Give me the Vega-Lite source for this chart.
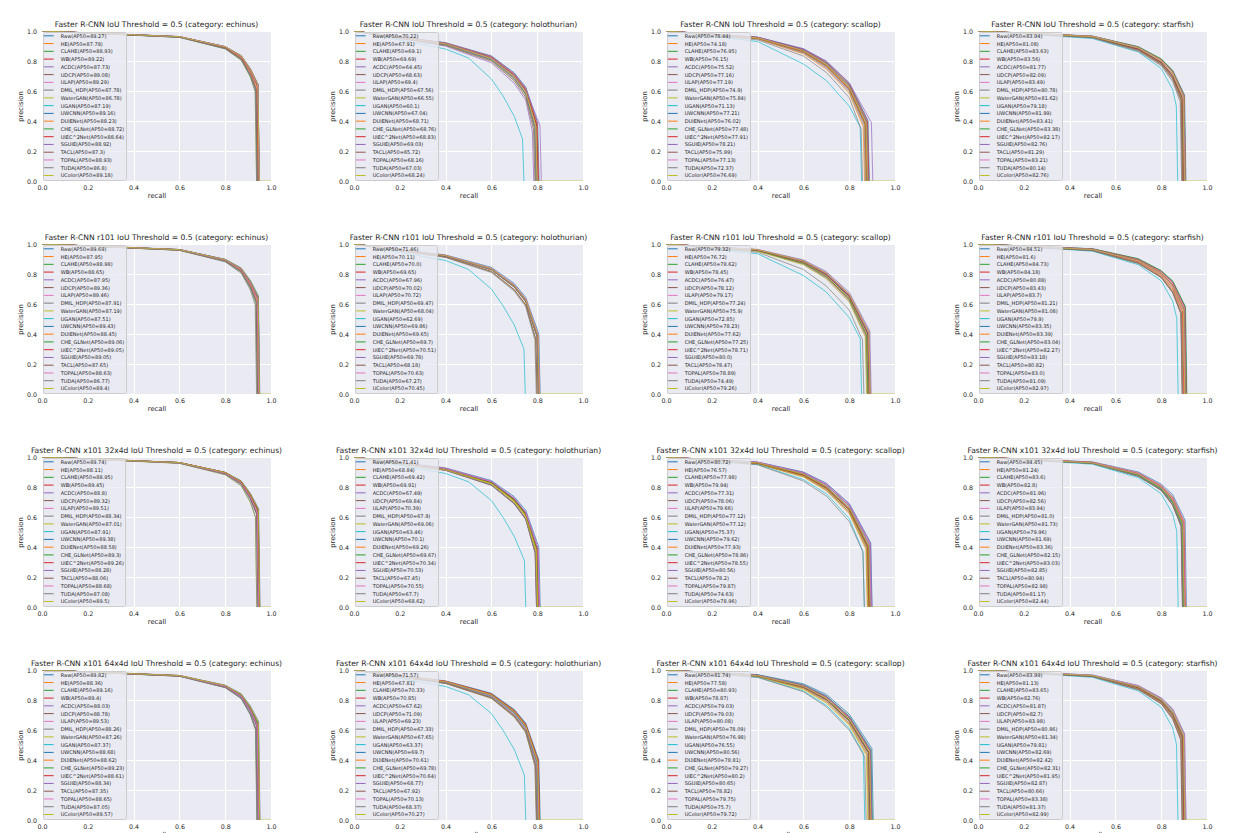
{
"$schema":"https://vega.github.io/schema/vega-lite/v6.json",
"padding":{"left":17,"top":21,"right":5,"bottom":0},
"background":"white",
"datasets":{
"labels":[
{"c":0,"t":"Raw(AP50=89.27)"},{"c":1,"t":"HE(AP50=87.78)"},{"c":2,"t":"CLAHE(AP50=88.93)"},{"c":3,"t":"WB(AP50=89.22)"},{"c":4,"t":"ACDC(AP50=87.73)"},{"c":5,"t":"UDCP(AP50=89.08)"},{"c":6,"t":"ULAP(AP50=89.29)"},{"c":7,"t":"DMIL_HDP(AP50=87.78)"},{"c":8,"t":"WaterGAN(AP50=86.78)"},{"c":9,"t":"UGAN(AP50=87.19)"},{"c":10,"t":"UWCNN(AP50=89.16)"},{"c":11,"t":"DUIENet(AP50=88.23)"},{"c":12,"t":"CHE_GLNet(AP50=88.72)"},{"c":13,"t":"UIEC^2Net(AP50=88.64)"},{"c":14,"t":"SGUIE(AP50=88.92)"},{"c":15,"t":"TACL(AP50=87.3)"},{"c":16,"t":"TOPAL(AP50=88.93)"},{"c":17,"t":"TUDA(AP50=86.8)"},{"c":18,"t":"UColor(AP50=89.18)"},
{"c":19,"t":"Raw(AP50=70.22)"},{"c":20,"t":"HE(AP50=67.91)"},{"c":21,"t":"CLAHE(AP50=69.1)"},{"c":22,"t":"WB(AP50=69.69)"},{"c":23,"t":"ACDC(AP50=64.45)"},{"c":24,"t":"UDCP(AP50=68.63)"},{"c":25,"t":"ULAP(AP50=69.4)"},{"c":26,"t":"DMIL_HDP(AP50=67.56)"},{"c":27,"t":"WaterGAN(AP50=66.55)"},{"c":28,"t":"UGAN(AP50=60.1)"},{"c":29,"t":"UWCNN(AP50=67.04)"},{"c":30,"t":"DUIENet(AP50=68.71)"},{"c":31,"t":"CHE_GLNet(AP50=68.76)"},{"c":32,"t":"UIEC^2Net(AP50=68.83)"},{"c":33,"t":"SGUIE(AP50=69.03)"},{"c":34,"t":"TACL(AP50=65.72)"},{"c":35,"t":"TOPAL(AP50=68.16)"},{"c":36,"t":"TUDA(AP50=67.03)"},{"c":37,"t":"UColor(AP50=68.24)"},
{"c":38,"t":"Raw(AP50=78.44)"},{"c":39,"t":"HE(AP50=74.18)"},{"c":40,"t":"CLAHE(AP50=76.95)"},{"c":41,"t":"WB(AP50=76.15)"},{"c":42,"t":"ACDC(AP50=75.52)"},{"c":43,"t":"UDCP(AP50=77.16)"},{"c":44,"t":"ULAP(AP50=77.19)"},{"c":45,"t":"DMIL_HDP(AP50=74.9)"},{"c":46,"t":"WaterGAN(AP50=75.84)"},{"c":47,"t":"UGAN(AP50=71.13)"},{"c":48,"t":"UWCNN(AP50=77.21)"},{"c":49,"t":"DUIENet(AP50=76.02)"},{"c":50,"t":"CHE_GLNet(AP50=77.48)"},{"c":51,"t":"UIEC^2Net(AP50=77.91)"},{"c":52,"t":"SGUIE(AP50=78.21)"},{"c":53,"t":"TACL(AP50=75.99)"},{"c":54,"t":"TOPAL(AP50=77.13)"},{"c":55,"t":"TUDA(AP50=72.37)"},{"c":56,"t":"UColor(AP50=76.69)"},
{"c":57,"t":"Raw(AP50=83.94)"},{"c":58,"t":"HE(AP50=81.08)"},{"c":59,"t":"CLAHE(AP50=83.63)"},{"c":60,"t":"WB(AP50=83.56)"},{"c":61,"t":"ACDC(AP50=81.77)"},{"c":62,"t":"UDCP(AP50=82.09)"},{"c":63,"t":"ULAP(AP50=83.49)"},{"c":64,"t":"DMIL_HDP(AP50=80.78)"},{"c":65,"t":"WaterGAN(AP50=81.62)"},{"c":66,"t":"UGAN(AP50=79.18)"},{"c":67,"t":"UWCNN(AP50=81.99)"},{"c":68,"t":"DUIENet(AP50=83.41)"},{"c":69,"t":"CHE_GLNet(AP50=83.38)"},{"c":70,"t":"UIEC^2Net(AP50=82.17)"},{"c":71,"t":"SGUIE(AP50=82.76)"},{"c":72,"t":"TACL(AP50=81.29)"},{"c":73,"t":"TOPAL(AP50=83.21)"},{"c":74,"t":"TUDA(AP50=80.14)"},{"c":75,"t":"UColor(AP50=82.76)"},
{"c":76,"t":"Raw(AP50=89.69)"},{"c":77,"t":"HE(AP50=87.95)"},{"c":78,"t":"CLAHE(AP50=88.98)"},{"c":79,"t":"WB(AP50=88.65)"},{"c":80,"t":"ACDC(AP50=87.95)"},{"c":81,"t":"UDCP(AP50=89.36)"},{"c":82,"t":"ULAP(AP50=89.46)"},{"c":83,"t":"DMIL_HDP(AP50=87.91)"},{"c":84,"t":"WaterGAN(AP50=87.19)"},{"c":85,"t":"UGAN(AP50=87.51)"},{"c":86,"t":"UWCNN(AP50=89.43)"},{"c":87,"t":"DUIENet(AP50=88.45)"},{"c":88,"t":"CHE_GLNet(AP50=89.06)"},{"c":89,"t":"UIEC^2Net(AP50=89.05)"},{"c":90,"t":"SGUIE(AP50=89.05)"},{"c":91,"t":"TACL(AP50=87.65)"},{"c":92,"t":"TOPAL(AP50=88.63)"},{"c":93,"t":"TUDA(AP50=86.77)"},{"c":94,"t":"UColor(AP50=89.4)"},
{"c":95,"t":"Raw(AP50=71.46)"},{"c":96,"t":"HE(AP50=70.11)"},{"c":97,"t":"CLAHE(AP50=70.0)"},{"c":98,"t":"WB(AP50=69.65)"},{"c":99,"t":"ACDC(AP50=67.96)"},{"c":100,"t":"UDCP(AP50=70.02)"},{"c":101,"t":"ULAP(AP50=70.72)"},{"c":102,"t":"DMIL_HDP(AP50=69.47)"},{"c":103,"t":"WaterGAN(AP50=68.04)"},{"c":104,"t":"UGAN(AP50=62.69)"},{"c":105,"t":"UWCNN(AP50=69.86)"},{"c":106,"t":"DUIENet(AP50=69.65)"},{"c":107,"t":"CHE_GLNet(AP50=69.7)"},{"c":108,"t":"UIEC^2Net(AP50=70.51)"},{"c":109,"t":"SGUIE(AP50=69.78)"},{"c":110,"t":"TACL(AP50=68.18)"},{"c":111,"t":"TOPAL(AP50=70.63)"},{"c":112,"t":"TUDA(AP50=67.27)"},{"c":113,"t":"UColor(AP50=70.45)"},
{"c":114,"t":"Raw(AP50=79.32)"},{"c":115,"t":"HE(AP50=76.72)"},{"c":116,"t":"CLAHE(AP50=78.62)"},{"c":117,"t":"WB(AP50=78.45)"},{"c":118,"t":"ACDC(AP50=76.47)"},{"c":119,"t":"UDCP(AP50=78.12)"},{"c":120,"t":"ULAP(AP50=79.17)"},{"c":121,"t":"DMIL_HDP(AP50=77.24)"},{"c":122,"t":"WaterGAN(AP50=75.9)"},{"c":123,"t":"UGAN(AP50=72.85)"},{"c":124,"t":"UWCNN(AP50=78.23)"},{"c":125,"t":"DUIENet(AP50=77.62)"},{"c":126,"t":"CHE_GLNet(AP50=77.25)"},{"c":127,"t":"UIEC^2Net(AP50=78.71)"},{"c":128,"t":"SGUIE(AP50=80.0)"},{"c":129,"t":"TACL(AP50=78.47)"},{"c":130,"t":"TOPAL(AP50=78.89)"},{"c":131,"t":"TUDA(AP50=74.49)"},{"c":132,"t":"UColor(AP50=79.26)"},
{"c":133,"t":"Raw(AP50=84.51)"},{"c":134,"t":"HE(AP50=81.6)"},{"c":135,"t":"CLAHE(AP50=84.73)"},{"c":136,"t":"WB(AP50=84.18)"},{"c":137,"t":"ACDC(AP50=80.88)"},{"c":138,"t":"UDCP(AP50=83.43)"},{"c":139,"t":"ULAP(AP50=83.7)"},{"c":140,"t":"DMIL_HDP(AP50=81.21)"},{"c":141,"t":"WaterGAN(AP50=81.08)"},{"c":142,"t":"UGAN(AP50=79.9)"},{"c":143,"t":"UWCNN(AP50=83.35)"},{"c":144,"t":"DUIENet(AP50=83.39)"},{"c":145,"t":"CHE_GLNet(AP50=83.04)"},{"c":146,"t":"UIEC^2Net(AP50=82.27)"},{"c":147,"t":"SGUIE(AP50=83.18)"},{"c":148,"t":"TACL(AP50=80.82)"},{"c":149,"t":"TOPAL(AP50=83.0)"},{"c":150,"t":"TUDA(AP50=81.09)"},{"c":151,"t":"UColor(AP50=82.97)"},
{"c":152,"t":"Raw(AP50=89.74)"},{"c":153,"t":"HE(AP50=88.11)"},{"c":154,"t":"CLAHE(AP50=88.95)"},{"c":155,"t":"WB(AP50=89.45)"},{"c":156,"t":"ACDC(AP50=88.8)"},{"c":157,"t":"UDCP(AP50=89.32)"},{"c":158,"t":"ULAP(AP50=89.51)"},{"c":159,"t":"DMIL_HDP(AP50=88.34)"},{"c":160,"t":"WaterGAN(AP50=87.01)"},{"c":161,"t":"UGAN(AP50=87.91)"},{"c":162,"t":"UWCNN(AP50=89.38)"},{"c":163,"t":"DUIENet(AP50=88.58)"},{"c":164,"t":"CHE_GLNet(AP50=89.3)"},{"c":165,"t":"UIEC^2Net(AP50=89.26)"},{"c":166,"t":"SGUIE(AP50=88.28)"},{"c":167,"t":"TACL(AP50=88.06)"},{"c":168,"t":"TOPAL(AP50=88.68)"},{"c":169,"t":"TUDA(AP50=87.08)"},{"c":170,"t":"UColor(AP50=89.5)"},
{"c":171,"t":"Raw(AP50=71.41)"},{"c":172,"t":"HE(AP50=68.84)"},{"c":173,"t":"CLAHE(AP50=69.42)"},{"c":174,"t":"WB(AP50=69.91)"},{"c":175,"t":"ACDC(AP50=67.49)"},{"c":176,"t":"UDCP(AP50=69.84)"},{"c":177,"t":"ULAP(AP50=70.39)"},{"c":178,"t":"DMIL_HDP(AP50=67.9)"},{"c":179,"t":"WaterGAN(AP50=69.06)"},{"c":180,"t":"UGAN(AP50=63.46)"},{"c":181,"t":"UWCNN(AP50=70.1)"},{"c":182,"t":"DUIENet(AP50=69.26)"},{"c":183,"t":"CHE_GLNet(AP50=69.67)"},{"c":184,"t":"UIEC^2Net(AP50=70.34)"},{"c":185,"t":"SGUIE(AP50=70.53)"},{"c":186,"t":"TACL(AP50=67.45)"},{"c":187,"t":"TOPAL(AP50=70.55)"},{"c":188,"t":"TUDA(AP50=67.7)"},{"c":189,"t":"UColor(AP50=68.62)"},
{"c":190,"t":"Raw(AP50=80.72)"},{"c":191,"t":"HE(AP50=76.57)"},{"c":192,"t":"CLAHE(AP50=77.98)"},{"c":193,"t":"WB(AP50=79.94)"},{"c":194,"t":"ACDC(AP50=77.31)"},{"c":195,"t":"UDCP(AP50=78.06)"},{"c":196,"t":"ULAP(AP50=79.66)"},{"c":197,"t":"DMIL_HDP(AP50=77.12)"},{"c":198,"t":"WaterGAN(AP50=77.12)"},{"c":199,"t":"UGAN(AP50=75.37)"},{"c":200,"t":"UWCNN(AP50=79.62)"},{"c":201,"t":"DUIENet(AP50=77.93)"},{"c":202,"t":"CHE_GLNet(AP50=78.86)"},{"c":203,"t":"UIEC^2Net(AP50=78.55)"},{"c":204,"t":"SGUIE(AP50=80.56)"},{"c":205,"t":"TACL(AP50=78.2)"},{"c":206,"t":"TOPAL(AP50=79.87)"},{"c":207,"t":"TUDA(AP50=74.63)"},{"c":208,"t":"UColor(AP50=78.96)"},
{"c":209,"t":"Raw(AP50=84.45)"},{"c":210,"t":"HE(AP50=81.24)"},{"c":211,"t":"CLAHE(AP50=83.6)"},{"c":212,"t":"WB(AP50=82.8)"},{"c":213,"t":"ACDC(AP50=81.96)"},{"c":214,"t":"UDCP(AP50=82.56)"},{"c":215,"t":"ULAP(AP50=83.94)"},{"c":216,"t":"DMIL_HDP(AP50=81.0)"},{"c":217,"t":"WaterGAN(AP50=81.73)"},{"c":218,"t":"UGAN(AP50=79.96)"},{"c":219,"t":"UWCNN(AP50=81.69)"},{"c":220,"t":"DUIENet(AP50=83.36)"},{"c":221,"t":"CHE_GLNet(AP50=82.15)"},{"c":222,"t":"UIEC^2Net(AP50=83.03)"},{"c":223,"t":"SGUIE(AP50=82.85)"},{"c":224,"t":"TACL(AP50=80.94)"},{"c":225,"t":"TOPAL(AP50=82.98)"},{"c":226,"t":"TUDA(AP50=81.17)"},{"c":227,"t":"UColor(AP50=82.44)"},
{"c":228,"t":"Raw(AP50=89.82)"},{"c":229,"t":"HE(AP50=88.36)"},{"c":230,"t":"CLAHE(AP50=89.16)"},{"c":231,"t":"WB(AP50=89.4)"},{"c":232,"t":"ACDC(AP50=88.03)"},{"c":233,"t":"UDCP(AP50=88.78)"},{"c":234,"t":"ULAP(AP50=89.53)"},{"c":235,"t":"DMIL_HDP(AP50=88.26)"},{"c":236,"t":"WaterGAN(AP50=87.26)"},{"c":237,"t":"UGAN(AP50=87.37)"},{"c":238,"t":"UWCNN(AP50=88.68)"},{"c":239,"t":"DUIENet(AP50=88.62)"},{"c":240,"t":"CHE_GLNet(AP50=89.23)"},{"c":241,"t":"UIEC^2Net(AP50=88.61)"},{"c":242,"t":"SGUIE(AP50=88.34)"},{"c":243,"t":"TACL(AP50=87.35)"},{"c":244,"t":"TOPAL(AP50=88.65)"},{"c":245,"t":"TUDA(AP50=87.05)"},{"c":246,"t":"UColor(AP50=89.57)"},
{"c":247,"t":"Raw(AP50=71.57)"},{"c":248,"t":"HE(AP50=67.81)"},{"c":249,"t":"CLAHE(AP50=70.33)"},{"c":250,"t":"WB(AP50=70.85)"},{"c":251,"t":"ACDC(AP50=67.62)"},{"c":252,"t":"UDCP(AP50=71.09)"},{"c":253,"t":"ULAP(AP50=69.23)"},{"c":254,"t":"DMIL_HDP(AP50=67.33)"},{"c":255,"t":"WaterGAN(AP50=67.65)"},{"c":256,"t":"UGAN(AP50=63.37)"},{"c":257,"t":"UWCNN(AP50=69.7)"},{"c":258,"t":"DUIENet(AP50=70.61)"},{"c":259,"t":"CHE_GLNet(AP50=69.78)"},{"c":260,"t":"UIEC^2Net(AP50=70.64)"},{"c":261,"t":"SGUIE(AP50=68.77)"},{"c":262,"t":"TACL(AP50=67.92)"},{"c":263,"t":"TOPAL(AP50=70.13)"},{"c":264,"t":"TUDA(AP50=68.37)"},{"c":265,"t":"UColor(AP50=70.27)"},
{"c":266,"t":"Raw(AP50=81.74)"},{"c":267,"t":"HE(AP50=77.58)"},{"c":268,"t":"CLAHE(AP50=80.93)"},{"c":269,"t":"WB(AP50=78.87)"},{"c":270,"t":"ACDC(AP50=79.03)"},{"c":271,"t":"UDCP(AP50=79.03)"},{"c":272,"t":"ULAP(AP50=80.08)"},{"c":273,"t":"DMIL_HDP(AP50=78.09)"},{"c":274,"t":"WaterGAN(AP50=76.98)"},{"c":275,"t":"UGAN(AP50=76.55)"},{"c":276,"t":"UWCNN(AP50=80.56)"},{"c":277,"t":"DUIENet(AP50=78.81)"},{"c":278,"t":"CHE_GLNet(AP50=79.27)"},{"c":279,"t":"UIEC^2Net(AP50=80.2)"},{"c":280,"t":"SGUIE(AP50=80.65)"},{"c":281,"t":"TACL(AP50=78.82)"},{"c":282,"t":"TOPAL(AP50=79.75)"},{"c":283,"t":"TUDA(AP50=75.7)"},{"c":284,"t":"UColor(AP50=79.72)"},
{"c":285,"t":"Raw(AP50=83.99)"},{"c":286,"t":"HE(AP50=81.13)"},{"c":287,"t":"CLAHE(AP50=83.65)"},{"c":288,"t":"WB(AP50=82.76)"},{"c":289,"t":"ACDC(AP50=81.87)"},{"c":290,"t":"UDCP(AP50=82.7)"},{"c":291,"t":"ULAP(AP50=83.98)"},{"c":292,"t":"DMIL_HDP(AP50=80.86)"},{"c":293,"t":"WaterGAN(AP50=81.34)"},{"c":294,"t":"UGAN(AP50=79.81)"},{"c":295,"t":"UWCNN(AP50=82.69)"},{"c":296,"t":"DUIENet(AP50=82.42)"},{"c":297,"t":"CHE_GLNet(AP50=82.31)"},{"c":298,"t":"UIEC^2Net(AP50=81.95)"},{"c":299,"t":"SGUIE(AP50=82.87)"},{"c":300,"t":"TACL(AP50=80.66)"},{"c":301,"t":"TOPAL(AP50=83.38)"},{"c":302,"t":"TUDA(AP50=81.37)"},{"c":303,"t":"UColor(AP50=82.99)"}
],
"curves":[
{"c":0,"r":0,"v":1},{"c":0,"r":0.6,"v":0.963},{"c":0,"r":0.8,"v":0.896},{"c":0,"r":0.87,"v":0.835},{"c":0,"r":0.91,"v":0.748},{"c":0,"r":0.943,"v":0.645},{"c":0,"r":0.949,"v":0},
{"c":1,"r":0,"v":1},{"c":1,"r":0.6,"v":0.96},{"c":1,"r":0.8,"v":0.887},{"c":1,"r":0.87,"v":0.817},{"c":1,"r":0.91,"v":0.715},{"c":1,"r":0.936,"v":0.616},{"c":1,"r":0.942,"v":0},
{"c":2,"r":0,"v":1},{"c":2,"r":0.6,"v":0.962},{"c":2,"r":0.8,"v":0.894},{"c":2,"r":0.87,"v":0.831},{"c":2,"r":0.91,"v":0.74},{"c":2,"r":0.942,"v":0.639},{"c":2,"r":0.948,"v":0},
{"c":3,"r":0,"v":1},{"c":3,"r":0.6,"v":0.962},{"c":3,"r":0.8,"v":0.895},{"c":3,"r":0.87,"v":0.835},{"c":3,"r":0.91,"v":0.747},{"c":3,"r":0.943,"v":0.644},{"c":3,"r":0.949,"v":0},
{"c":4,"r":0,"v":1},{"c":4,"r":0.6,"v":0.959},{"c":4,"r":0.8,"v":0.886},{"c":4,"r":0.87,"v":0.817},{"c":4,"r":0.91,"v":0.714},{"c":4,"r":0.936,"v":0.615},{"c":4,"r":0.942,"v":0},
{"c":5,"r":0,"v":1},{"c":5,"r":0.6,"v":0.962},{"c":5,"r":0.8,"v":0.894},{"c":5,"r":0.87,"v":0.833},{"c":5,"r":0.91,"v":0.744},{"c":5,"r":0.942,"v":0.642},{"c":5,"r":0.948,"v":0},
{"c":6,"r":0,"v":1},{"c":6,"r":0.6,"v":0.963},{"c":6,"r":0.8,"v":0.896},{"c":6,"r":0.87,"v":0.835},{"c":6,"r":0.91,"v":0.748},{"c":6,"r":0.943,"v":0.646},{"c":6,"r":0.949,"v":0},
{"c":7,"r":0,"v":1},{"c":7,"r":0.6,"v":0.96},{"c":7,"r":0.8,"v":0.887},{"c":7,"r":0.87,"v":0.817},{"c":7,"r":0.91,"v":0.715},{"c":7,"r":0.935,"v":0.616},{"c":7,"r":0.941,"v":0},
{"c":8,"r":0,"v":1},{"c":8,"r":0.6,"v":0.958},{"c":8,"r":0.8,"v":0.881},{"c":8,"r":0.87,"v":0.805},{"c":8,"r":0.91,"v":0.693},{"c":8,"r":0.931,"v":0.596},{"c":8,"r":0.937,"v":0},
{"c":9,"r":0,"v":1},{"c":9,"r":0.6,"v":0.958},{"c":9,"r":0.8,"v":0.883},{"c":9,"r":0.87,"v":0.81},{"c":9,"r":0.91,"v":0.702},{"c":9,"r":0.933,"v":0.604},{"c":9,"r":0.939,"v":0},
{"c":10,"r":0,"v":1},{"c":10,"r":0.6,"v":0.962},{"c":10,"r":0.8,"v":0.895},{"c":10,"r":0.87,"v":0.834},{"c":10,"r":0.91,"v":0.746},{"c":10,"r":0.943,"v":0.643},{"c":10,"r":0.949,"v":0},
{"c":11,"r":0,"v":1},{"c":11,"r":0.6,"v":0.96},{"c":11,"r":0.8,"v":0.889},{"c":11,"r":0.87,"v":0.823},{"c":11,"r":0.91,"v":0.725},{"c":11,"r":0.938,"v":0.625},{"c":11,"r":0.944,"v":0},
{"c":12,"r":0,"v":1},{"c":12,"r":0.6,"v":0.961},{"c":12,"r":0.8,"v":0.892},{"c":12,"r":0.87,"v":0.829},{"c":12,"r":0.91,"v":0.736},{"c":12,"r":0.941,"v":0.634},{"c":12,"r":0.947,"v":0},
{"c":13,"r":0,"v":1},{"c":13,"r":0.6,"v":0.961},{"c":13,"r":0.8,"v":0.892},{"c":13,"r":0.87,"v":0.828},{"c":13,"r":0.91,"v":0.734},{"c":13,"r":0.94,"v":0.633},{"c":13,"r":0.946,"v":0},
{"c":14,"r":0,"v":1},{"c":14,"r":0.6,"v":0.962},{"c":14,"r":0.8,"v":0.894},{"c":14,"r":0.87,"v":0.831},{"c":14,"r":0.91,"v":0.74},{"c":14,"r":0.942,"v":0.638},{"c":14,"r":0.948,"v":0},
{"c":15,"r":0,"v":1},{"c":15,"r":0.6,"v":0.959},{"c":15,"r":0.8,"v":0.884},{"c":15,"r":0.87,"v":0.812},{"c":15,"r":0.91,"v":0.705},{"c":15,"r":0.934,"v":0.606},{"c":15,"r":0.94,"v":0},
{"c":16,"r":0,"v":1},{"c":16,"r":0.6,"v":0.962},{"c":16,"r":0.8,"v":0.894},{"c":16,"r":0.87,"v":0.831},{"c":16,"r":0.91,"v":0.74},{"c":16,"r":0.942,"v":0.639},{"c":16,"r":0.948,"v":0},
{"c":17,"r":0,"v":1},{"c":17,"r":0.6,"v":0.958},{"c":17,"r":0.8,"v":0.881},{"c":17,"r":0.87,"v":0.806},{"c":17,"r":0.91,"v":0.694},{"c":17,"r":0.931,"v":0.596},{"c":17,"r":0.937,"v":0},
{"c":18,"r":0,"v":1},{"c":18,"r":0.6,"v":0.962},{"c":18,"r":0.8,"v":0.895},{"c":18,"r":0.87,"v":0.834},{"c":18,"r":0.91,"v":0.746},{"c":18,"r":0.943,"v":0.644},{"c":18,"r":0.949,"v":0},{"c":18,"r":1,"v":0},
{"c":19,"r":0,"v":1},{"c":19,"r":0.4,"v":0.922},{"c":19,"r":0.6,"v":0.834},{"c":19,"r":0.7,"v":0.721},{"c":19,"r":0.75,"v":0.626},{"c":19,"r":0.802,"v":0.387},{"c":19,"r":0.808,"v":0},
{"c":20,"r":0,"v":1},{"c":20,"r":0.4,"v":0.913},{"c":20,"r":0.6,"v":0.815},{"c":20,"r":0.7,"v":0.693},{"c":20,"r":0.75,"v":0.591},{"c":20,"r":0.793,"v":0.364},{"c":20,"r":0.799,"v":0},
{"c":21,"r":0,"v":1},{"c":21,"r":0.4,"v":0.917},{"c":21,"r":0.6,"v":0.825},{"c":21,"r":0.7,"v":0.707},{"c":21,"r":0.75,"v":0.609},{"c":21,"r":0.797,"v":0.376},{"c":21,"r":0.803,"v":0},
{"c":22,"r":0,"v":1},{"c":22,"r":0.4,"v":0.92},{"c":22,"r":0.6,"v":0.83},{"c":22,"r":0.7,"v":0.714},{"c":22,"r":0.75,"v":0.618},{"c":22,"r":0.8,"v":0.382},{"c":22,"r":0.806,"v":0},
{"c":23,"r":0,"v":1},{"c":23,"r":0.4,"v":0.899},{"c":23,"r":0.6,"v":0.788},{"c":23,"r":0.7,"v":0.651},{"c":23,"r":0.75,"v":0.539},{"c":23,"r":0.779,"v":0.33},{"c":23,"r":0.785,"v":0},
{"c":24,"r":0,"v":1},{"c":24,"r":0.4,"v":0.916},{"c":24,"r":0.6,"v":0.821},{"c":24,"r":0.7,"v":0.702},{"c":24,"r":0.75,"v":0.602},{"c":24,"r":0.796,"v":0.371},{"c":24,"r":0.802,"v":0},
{"c":25,"r":0,"v":1},{"c":25,"r":0.4,"v":0.919},{"c":25,"r":0.6,"v":0.827},{"c":25,"r":0.7,"v":0.711},{"c":25,"r":0.75,"v":0.614},{"c":25,"r":0.799,"v":0.379},{"c":25,"r":0.805,"v":0},
{"c":26,"r":0,"v":1},{"c":26,"r":0.4,"v":0.911},{"c":26,"r":0.6,"v":0.812},{"c":26,"r":0.7,"v":0.689},{"c":26,"r":0.75,"v":0.586},{"c":26,"r":0.791,"v":0.361},{"c":26,"r":0.797,"v":0},
{"c":27,"r":0,"v":1},{"c":27,"r":0.4,"v":0.907},{"c":27,"r":0.6,"v":0.804},{"c":27,"r":0.7,"v":0.677},{"c":27,"r":0.75,"v":0.571},{"c":27,"r":0.787,"v":0.351},{"c":27,"r":0.793,"v":0},
{"c":28,"r":0,"v":1},{"c":28,"r":0.4,"v":0.88},{"c":28,"r":0.5,"v":0.82},{"c":28,"r":0.6,"v":0.68},{"c":28,"r":0.65,"v":0.57},{"c":28,"r":0.7,"v":0.43},{"c":28,"r":0.736,"v":0.28},{"c":28,"r":0.742,"v":0},
{"c":29,"r":0,"v":1},{"c":29,"r":0.4,"v":0.909},{"c":29,"r":0.6,"v":0.808},{"c":29,"r":0.7,"v":0.682},{"c":29,"r":0.75,"v":0.578},{"c":29,"r":0.789,"v":0.355},{"c":29,"r":0.795,"v":0},
{"c":30,"r":0,"v":1},{"c":30,"r":0.4,"v":0.916},{"c":30,"r":0.6,"v":0.822},{"c":30,"r":0.7,"v":0.703},{"c":30,"r":0.75,"v":0.603},{"c":30,"r":0.796,"v":0.372},{"c":30,"r":0.802,"v":0},
{"c":31,"r":0,"v":1},{"c":31,"r":0.4,"v":0.916},{"c":31,"r":0.6,"v":0.822},{"c":31,"r":0.7,"v":0.703},{"c":31,"r":0.75,"v":0.604},{"c":31,"r":0.797,"v":0.373},{"c":31,"r":0.803,"v":0},
{"c":32,"r":0,"v":1},{"c":32,"r":0.4,"v":0.916},{"c":32,"r":0.6,"v":0.823},{"c":32,"r":0.7,"v":0.704},{"c":32,"r":0.75,"v":0.605},{"c":32,"r":0.798,"v":0.373},{"c":32,"r":0.804,"v":0},
{"c":33,"r":0,"v":1},{"c":33,"r":0.4,"v":0.917},{"c":33,"r":0.6,"v":0.824},{"c":33,"r":0.7,"v":0.706},{"c":33,"r":0.75,"v":0.612},{"c":33,"r":0.812,"v":0.37},{"c":33,"r":0.818,"v":0},
{"c":34,"r":0,"v":1},{"c":34,"r":0.4,"v":0.904},{"c":34,"r":0.6,"v":0.798},{"c":34,"r":0.7,"v":0.667},{"c":34,"r":0.75,"v":0.558},{"c":34,"r":0.784,"v":0.342},{"c":34,"r":0.79,"v":0},
{"c":35,"r":0,"v":1},{"c":35,"r":0.4,"v":0.914},{"c":35,"r":0.6,"v":0.817},{"c":35,"r":0.7,"v":0.696},{"c":35,"r":0.75,"v":0.595},{"c":35,"r":0.794,"v":0.367},{"c":35,"r":0.8,"v":0},
{"c":36,"r":0,"v":1},{"c":36,"r":0.4,"v":0.909},{"c":36,"r":0.6,"v":0.808},{"c":36,"r":0.7,"v":0.682},{"c":36,"r":0.75,"v":0.578},{"c":36,"r":0.789,"v":0.355},{"c":36,"r":0.795,"v":0},
{"c":37,"r":0,"v":1},{"c":37,"r":0.4,"v":0.914},{"c":37,"r":0.6,"v":0.818},{"c":37,"r":0.7,"v":0.697},{"c":37,"r":0.75,"v":0.596},{"c":37,"r":0.794,"v":0.367},{"c":37,"r":0.8,"v":0},{"c":37,"r":1,"v":0},
{"c":38,"r":0,"v":1},{"c":38,"r":0.4,"v":0.959},{"c":38,"r":0.6,"v":0.882},{"c":38,"r":0.7,"v":0.797},{"c":38,"r":0.8,"v":0.653},{"c":38,"r":0.882,"v":0.404},{"c":38,"r":0.888,"v":0},
{"c":39,"r":0,"v":1},{"c":39,"r":0.4,"v":0.947},{"c":39,"r":0.6,"v":0.847},{"c":39,"r":0.7,"v":0.746},{"c":39,"r":0.8,"v":0.585},{"c":39,"r":0.861,"v":0.362},{"c":39,"r":0.867,"v":0},
{"c":40,"r":0,"v":1},{"c":40,"r":0.4,"v":0.955},{"c":40,"r":0.6,"v":0.87},{"c":40,"r":0.7,"v":0.779},{"c":40,"r":0.8,"v":0.629},{"c":40,"r":0.875,"v":0.39},{"c":40,"r":0.881,"v":0},
{"c":41,"r":0,"v":1},{"c":41,"r":0.4,"v":0.952},{"c":41,"r":0.6,"v":0.863},{"c":41,"r":0.7,"v":0.77},{"c":41,"r":0.8,"v":0.616},{"c":41,"r":0.871,"v":0.382},{"c":41,"r":0.877,"v":0},
{"c":42,"r":0,"v":1},{"c":42,"r":0.4,"v":0.951},{"c":42,"r":0.6,"v":0.858},{"c":42,"r":0.7,"v":0.762},{"c":42,"r":0.8,"v":0.606},{"c":42,"r":0.868,"v":0.375},{"c":42,"r":0.874,"v":0},
{"c":43,"r":0,"v":1},{"c":43,"r":0.4,"v":0.955},{"c":43,"r":0.6,"v":0.871},{"c":43,"r":0.7,"v":0.782},{"c":43,"r":0.8,"v":0.633},{"c":43,"r":0.876,"v":0.392},{"c":43,"r":0.882,"v":0},
{"c":44,"r":0,"v":1},{"c":44,"r":0.4,"v":0.956},{"c":44,"r":0.6,"v":0.872},{"c":44,"r":0.7,"v":0.782},{"c":44,"r":0.8,"v":0.633},{"c":44,"r":0.876,"v":0.392},{"c":44,"r":0.882,"v":0},
{"c":45,"r":0,"v":1},{"c":45,"r":0.4,"v":0.949},{"c":45,"r":0.6,"v":0.853},{"c":45,"r":0.7,"v":0.755},{"c":45,"r":0.8,"v":0.596},{"c":45,"r":0.865,"v":0.369},{"c":45,"r":0.871,"v":0},
{"c":46,"r":0,"v":1},{"c":46,"r":0.4,"v":0.952},{"c":46,"r":0.6,"v":0.861},{"c":46,"r":0.7,"v":0.766},{"c":46,"r":0.8,"v":0.611},{"c":46,"r":0.869,"v":0.378},{"c":46,"r":0.875,"v":0},
{"c":47,"r":0,"v":1},{"c":47,"r":0.4,"v":0.93},{"c":47,"r":0.6,"v":0.78},{"c":47,"r":0.7,"v":0.67},{"c":47,"r":0.8,"v":0.5},{"c":47,"r":0.848,"v":0.36},{"c":47,"r":0.854,"v":0},
{"c":48,"r":0,"v":1},{"c":48,"r":0.4,"v":0.956},{"c":48,"r":0.6,"v":0.872},{"c":48,"r":0.7,"v":0.783},{"c":48,"r":0.8,"v":0.633},{"c":48,"r":0.876,"v":0.392},{"c":48,"r":0.882,"v":0},
{"c":49,"r":0,"v":1},{"c":49,"r":0.4,"v":0.952},{"c":49,"r":0.6,"v":0.862},{"c":49,"r":0.7,"v":0.768},{"c":49,"r":0.8,"v":0.614},{"c":49,"r":0.87,"v":0.38},{"c":49,"r":0.876,"v":0},
{"c":50,"r":0,"v":1},{"c":50,"r":0.4,"v":0.956},{"c":50,"r":0.6,"v":0.874},{"c":50,"r":0.7,"v":0.786},{"c":50,"r":0.8,"v":0.638},{"c":50,"r":0.877,"v":0.395},{"c":50,"r":0.883,"v":0},
{"c":51,"r":0,"v":1},{"c":51,"r":0.4,"v":0.958},{"c":51,"r":0.6,"v":0.877},{"c":51,"r":0.7,"v":0.791},{"c":51,"r":0.8,"v":0.645},{"c":51,"r":0.88,"v":0.399},{"c":51,"r":0.886,"v":0},
{"c":52,"r":0,"v":1},{"c":52,"r":0.4,"v":0.959},{"c":52,"r":0.6,"v":0.88},{"c":52,"r":0.7,"v":0.8},{"c":52,"r":0.8,"v":0.655},{"c":52,"r":0.897,"v":0.39},{"c":52,"r":0.903,"v":0},
{"c":53,"r":0,"v":1},{"c":53,"r":0.4,"v":0.952},{"c":53,"r":0.6,"v":0.862},{"c":53,"r":0.7,"v":0.768},{"c":53,"r":0.8,"v":0.614},{"c":53,"r":0.87,"v":0.38},{"c":53,"r":0.876,"v":0},
{"c":54,"r":0,"v":1},{"c":54,"r":0.4,"v":0.955},{"c":54,"r":0.6,"v":0.871},{"c":54,"r":0.7,"v":0.782},{"c":54,"r":0.8,"v":0.632},{"c":54,"r":0.876,"v":0.391},{"c":54,"r":0.882,"v":0},
{"c":55,"r":0,"v":1},{"c":55,"r":0.4,"v":0.941},{"c":55,"r":0.6,"v":0.833},{"c":55,"r":0.7,"v":0.724},{"c":55,"r":0.8,"v":0.556},{"c":55,"r":0.852,"v":0.344},{"c":55,"r":0.858,"v":0},
{"c":56,"r":0,"v":1},{"c":56,"r":0.4,"v":0.954},{"c":56,"r":0.6,"v":0.868},{"c":56,"r":0.7,"v":0.776},{"c":56,"r":0.8,"v":0.625},{"c":56,"r":0.873,"v":0.387},{"c":56,"r":0.879,"v":0},{"c":56,"r":1,"v":0},
{"c":57,"r":0,"v":1},{"c":57,"r":0.5,"v":0.966},{"c":57,"r":0.7,"v":0.896},{"c":57,"r":0.8,"v":0.813},{"c":57,"r":0.85,"v":0.739},{"c":57,"r":0.902,"v":0.573},{"c":57,"r":0.908,"v":0},
{"c":58,"r":0,"v":1},{"c":58,"r":0.5,"v":0.957},{"c":58,"r":0.7,"v":0.873},{"c":58,"r":0.8,"v":0.779},{"c":58,"r":0.85,"v":0.682},{"c":58,"r":0.887,"v":0.539},{"c":58,"r":0.893,"v":0},
{"c":59,"r":0,"v":1},{"c":59,"r":0.5,"v":0.965},{"c":59,"r":0.7,"v":0.893},{"c":59,"r":0.8,"v":0.81},{"c":59,"r":0.85,"v":0.733},{"c":59,"r":0.9,"v":0.57},{"c":59,"r":0.906,"v":0},
{"c":60,"r":0,"v":1},{"c":60,"r":0.5,"v":0.965},{"c":60,"r":0.7,"v":0.892},{"c":60,"r":0.8,"v":0.809},{"c":60,"r":0.85,"v":0.731},{"c":60,"r":0.9,"v":0.569},{"c":60,"r":0.906,"v":0},
{"c":61,"r":0,"v":1},{"c":61,"r":0.5,"v":0.959},{"c":61,"r":0.7,"v":0.878},{"c":61,"r":0.8,"v":0.787},{"c":61,"r":0.85,"v":0.695},{"c":61,"r":0.891,"v":0.547},{"c":61,"r":0.897,"v":0},
{"c":62,"r":0,"v":1},{"c":62,"r":0.5,"v":0.96},{"c":62,"r":0.7,"v":0.881},{"c":62,"r":0.8,"v":0.791},{"c":62,"r":0.85,"v":0.702},{"c":62,"r":0.892,"v":0.551},{"c":62,"r":0.898,"v":0},
{"c":63,"r":0,"v":1},{"c":63,"r":0.5,"v":0.964},{"c":63,"r":0.7,"v":0.892},{"c":63,"r":0.8,"v":0.808},{"c":63,"r":0.85,"v":0.73},{"c":63,"r":0.899,"v":0.568},{"c":63,"r":0.905,"v":0},
{"c":64,"r":0,"v":1},{"c":64,"r":0.5,"v":0.956},{"c":64,"r":0.7,"v":0.87},{"c":64,"r":0.8,"v":0.775},{"c":64,"r":0.85,"v":0.676},{"c":64,"r":0.886,"v":0.535},{"c":64,"r":0.892,"v":0},
{"c":65,"r":0,"v":1},{"c":65,"r":0.5,"v":0.959},{"c":65,"r":0.7,"v":0.877},{"c":65,"r":0.8,"v":0.785},{"c":65,"r":0.85,"v":0.692},{"c":65,"r":0.89,"v":0.545},{"c":65,"r":0.896,"v":0},
{"c":66,"r":0,"v":1},{"c":66,"r":0.5,"v":0.95},{"c":66,"r":0.7,"v":0.86},{"c":66,"r":0.8,"v":0.75},{"c":66,"r":0.85,"v":0.61},{"c":66,"r":0.866,"v":0.5},{"c":66,"r":0.872,"v":0},
{"c":67,"r":0,"v":1},{"c":67,"r":0.5,"v":0.96},{"c":67,"r":0.7,"v":0.88},{"c":67,"r":0.8,"v":0.79},{"c":67,"r":0.85,"v":0.7},{"c":67,"r":0.892,"v":0.55},{"c":67,"r":0.898,"v":0},
{"c":68,"r":0,"v":1},{"c":68,"r":0.5,"v":0.964},{"c":68,"r":0.7,"v":0.891},{"c":68,"r":0.8,"v":0.807},{"c":68,"r":0.85,"v":0.728},{"c":68,"r":0.899,"v":0.567},{"c":68,"r":0.905,"v":0},
{"c":69,"r":0,"v":1},{"c":69,"r":0.5,"v":0.964},{"c":69,"r":0.7,"v":0.893},{"c":69,"r":0.8,"v":0.815},{"c":69,"r":0.85,"v":0.73},{"c":69,"r":0.899,"v":0.566},{"c":69,"r":0.905,"v":0},
{"c":70,"r":0,"v":1},{"c":70,"r":0.5,"v":0.961},{"c":70,"r":0.7,"v":0.881},{"c":70,"r":0.8,"v":0.792},{"c":70,"r":0.85,"v":0.703},{"c":70,"r":0.893,"v":0.552},{"c":70,"r":0.899,"v":0},
{"c":71,"r":0,"v":1},{"c":71,"r":0.5,"v":0.962},{"c":71,"r":0.7,"v":0.886},{"c":71,"r":0.8,"v":0.799},{"c":71,"r":0.85,"v":0.715},{"c":71,"r":0.896,"v":0.559},{"c":71,"r":0.902,"v":0},
{"c":72,"r":0,"v":1},{"c":72,"r":0.5,"v":0.958},{"c":72,"r":0.7,"v":0.874},{"c":72,"r":0.8,"v":0.781},{"c":72,"r":0.85,"v":0.686},{"c":72,"r":0.888,"v":0.541},{"c":72,"r":0.894,"v":0},
{"c":73,"r":0,"v":1},{"c":73,"r":0.5,"v":0.964},{"c":73,"r":0.7,"v":0.89},{"c":73,"r":0.8,"v":0.805},{"c":73,"r":0.85,"v":0.724},{"c":73,"r":0.898,"v":0.565},{"c":73,"r":0.904,"v":0},
{"c":74,"r":0,"v":1},{"c":74,"r":0.5,"v":0.954},{"c":74,"r":0.7,"v":0.865},{"c":74,"r":0.8,"v":0.768},{"c":74,"r":0.85,"v":0.663},{"c":74,"r":0.883,"v":0.528},{"c":74,"r":0.889,"v":0},
{"c":75,"r":0,"v":1},{"c":75,"r":0.5,"v":0.962},{"c":75,"r":0.7,"v":0.887},{"c":75,"r":0.8,"v":0.8},{"c":75,"r":0.85,"v":0.716},{"c":75,"r":0.895,"v":0.56},{"c":75,"r":0.901,"v":0},{"c":75,"r":1,"v":0},
{"c":76,"r":0,"v":1},{"c":76,"r":0.6,"v":0.963},{"c":76,"r":0.8,"v":0.898},{"c":76,"r":0.87,"v":0.84},{"c":76,"r":0.91,"v":0.757},{"c":76,"r":0.945,"v":0.654},{"c":76,"r":0.951,"v":0},
{"c":77,"r":0,"v":1},{"c":77,"r":0.6,"v":0.96},{"c":77,"r":0.8,"v":0.888},{"c":77,"r":0.87,"v":0.819},{"c":77,"r":0.91,"v":0.719},{"c":77,"r":0.937,"v":0.619},{"c":77,"r":0.943,"v":0},
{"c":78,"r":0,"v":1},{"c":78,"r":0.6,"v":0.962},{"c":78,"r":0.8,"v":0.894},{"c":78,"r":0.87,"v":0.832},{"c":78,"r":0.91,"v":0.742},{"c":78,"r":0.942,"v":0.64},{"c":78,"r":0.948,"v":0},
{"c":79,"r":0,"v":1},{"c":79,"r":0.6,"v":0.961},{"c":79,"r":0.8,"v":0.892},{"c":79,"r":0.87,"v":0.828},{"c":79,"r":0.91,"v":0.734},{"c":79,"r":0.94,"v":0.633},{"c":79,"r":0.946,"v":0},
{"c":80,"r":0,"v":1},{"c":80,"r":0.6,"v":0.96},{"c":80,"r":0.8,"v":0.888},{"c":80,"r":0.87,"v":0.819},{"c":80,"r":0.91,"v":0.719},{"c":80,"r":0.937,"v":0.619},{"c":80,"r":0.943,"v":0},
{"c":81,"r":0,"v":1},{"c":81,"r":0.6,"v":0.963},{"c":81,"r":0.8,"v":0.896},{"c":81,"r":0.87,"v":0.836},{"c":81,"r":0.91,"v":0.75},{"c":81,"r":0.944,"v":0.647},{"c":81,"r":0.95,"v":0},
{"c":82,"r":0,"v":1},{"c":82,"r":0.6,"v":0.963},{"c":82,"r":0.8,"v":0.897},{"c":82,"r":0.87,"v":0.838},{"c":82,"r":0.91,"v":0.752},{"c":82,"r":0.944,"v":0.649},{"c":82,"r":0.95,"v":0},
{"c":83,"r":0,"v":1},{"c":83,"r":0.6,"v":0.96},{"c":83,"r":0.8,"v":0.887},{"c":83,"r":0.87,"v":0.819},{"c":83,"r":0.91,"v":0.718},{"c":83,"r":0.937,"v":0.618},{"c":83,"r":0.943,"v":0},
{"c":84,"r":0,"v":1},{"c":84,"r":0.6,"v":0.958},{"c":84,"r":0.8,"v":0.883},{"c":84,"r":0.87,"v":0.81},{"c":84,"r":0.91,"v":0.702},{"c":84,"r":0.933,"v":0.604},{"c":84,"r":0.939,"v":0},
{"c":85,"r":0,"v":1},{"c":85,"r":0.6,"v":0.959},{"c":85,"r":0.8,"v":0.885},{"c":85,"r":0.87,"v":0.814},{"c":85,"r":0.91,"v":0.709},{"c":85,"r":0.935,"v":0.61},{"c":85,"r":0.941,"v":0},
{"c":86,"r":0,"v":1},{"c":86,"r":0.6,"v":0.963},{"c":86,"r":0.8,"v":0.897},{"c":86,"r":0.87,"v":0.837},{"c":86,"r":0.91,"v":0.751},{"c":86,"r":0.944,"v":0.649},{"c":86,"r":0.95,"v":0},
{"c":87,"r":0,"v":1},{"c":87,"r":0.6,"v":0.961},{"c":87,"r":0.8,"v":0.891},{"c":87,"r":0.87,"v":0.825},{"c":87,"r":0.91,"v":0.73},{"c":87,"r":0.939,"v":0.629},{"c":87,"r":0.945,"v":0},
{"c":88,"r":0,"v":1},{"c":88,"r":0.6,"v":0.962},{"c":88,"r":0.8,"v":0.894},{"c":88,"r":0.87,"v":0.833},{"c":88,"r":0.91,"v":0.743},{"c":88,"r":0.942,"v":0.641},{"c":88,"r":0.948,"v":0},
{"c":89,"r":0,"v":1},{"c":89,"r":0.6,"v":0.962},{"c":89,"r":0.8,"v":0.894},{"c":89,"r":0.87,"v":0.833},{"c":89,"r":0.91,"v":0.743},{"c":89,"r":0.942,"v":0.641},{"c":89,"r":0.948,"v":0},
{"c":90,"r":0,"v":1},{"c":90,"r":0.6,"v":0.962},{"c":90,"r":0.8,"v":0.894},{"c":90,"r":0.87,"v":0.832},{"c":90,"r":0.91,"v":0.742},{"c":90,"r":0.942,"v":0.64},{"c":90,"r":0.948,"v":0},
{"c":91,"r":0,"v":1},{"c":91,"r":0.6,"v":0.959},{"c":91,"r":0.8,"v":0.886},{"c":91,"r":0.87,"v":0.816},{"c":91,"r":0.91,"v":0.712},{"c":91,"r":0.935,"v":0.613},{"c":91,"r":0.941,"v":0},
{"c":92,"r":0,"v":1},{"c":92,"r":0.6,"v":0.961},{"c":92,"r":0.8,"v":0.892},{"c":92,"r":0.87,"v":0.828},{"c":92,"r":0.91,"v":0.734},{"c":92,"r":0.94,"v":0.633},{"c":92,"r":0.946,"v":0},
{"c":93,"r":0,"v":1},{"c":93,"r":0.6,"v":0.958},{"c":93,"r":0.8,"v":0.881},{"c":93,"r":0.87,"v":0.805},{"c":93,"r":0.91,"v":0.693},{"c":93,"r":0.931,"v":0.595},{"c":93,"r":0.937,"v":0},
{"c":94,"r":0,"v":1},{"c":94,"r":0.6,"v":0.963},{"c":94,"r":0.8,"v":0.896},{"c":94,"r":0.87,"v":0.837},{"c":94,"r":0.91,"v":0.751},{"c":94,"r":0.944,"v":0.648},{"c":94,"r":0.95,"v":0},{"c":94,"r":1,"v":0},
{"c":95,"r":0,"v":1},{"c":95,"r":0.4,"v":0.927},{"c":95,"r":0.6,"v":0.844},{"c":95,"r":0.7,"v":0.736},{"c":95,"r":0.75,"v":0.644},{"c":95,"r":0.807,"v":0.4},{"c":95,"r":0.813,"v":0},
{"c":96,"r":0,"v":1},{"c":96,"r":0.4,"v":0.921},{"c":96,"r":0.6,"v":0.833},{"c":96,"r":0.7,"v":0.719},{"c":96,"r":0.75,"v":0.624},{"c":96,"r":0.801,"v":0.386},{"c":96,"r":0.807,"v":0},
{"c":97,"r":0,"v":1},{"c":97,"r":0.4,"v":0.921},{"c":97,"r":0.6,"v":0.832},{"c":97,"r":0.7,"v":0.718},{"c":97,"r":0.75,"v":0.623},{"c":97,"r":0.801,"v":0.385},{"c":97,"r":0.807,"v":0},
{"c":98,"r":0,"v":1},{"c":98,"r":0.4,"v":0.92},{"c":98,"r":0.6,"v":0.829},{"c":98,"r":0.7,"v":0.714},{"c":98,"r":0.75,"v":0.617},{"c":98,"r":0.8,"v":0.382},{"c":98,"r":0.806,"v":0},
{"c":99,"r":0,"v":1},{"c":99,"r":0.4,"v":0.913},{"c":99,"r":0.6,"v":0.816},{"c":99,"r":0.7,"v":0.694},{"c":99,"r":0.75,"v":0.592},{"c":99,"r":0.793,"v":0.365},{"c":99,"r":0.799,"v":0},
{"c":100,"r":0,"v":1},{"c":100,"r":0.4,"v":0.921},{"c":100,"r":0.6,"v":0.832},{"c":100,"r":0.7,"v":0.718},{"c":100,"r":0.75,"v":0.623},{"c":100,"r":0.801,"v":0.385},{"c":100,"r":0.807,"v":0},
{"c":101,"r":0,"v":1},{"c":101,"r":0.4,"v":0.924},{"c":101,"r":0.6,"v":0.838},{"c":101,"r":0.7,"v":0.727},{"c":101,"r":0.75,"v":0.633},{"c":101,"r":0.804,"v":0.392},{"c":101,"r":0.81,"v":0},
{"c":102,"r":0,"v":1},{"c":102,"r":0.4,"v":0.919},{"c":102,"r":0.6,"v":0.828},{"c":102,"r":0.7,"v":0.712},{"c":102,"r":0.75,"v":0.615},{"c":102,"r":0.799,"v":0.38},{"c":102,"r":0.805,"v":0},
{"c":103,"r":0,"v":1},{"c":103,"r":0.4,"v":0.913},{"c":103,"r":0.6,"v":0.816},{"c":103,"r":0.7,"v":0.694},{"c":103,"r":0.75,"v":0.593},{"c":103,"r":0.793,"v":0.365},{"c":103,"r":0.799,"v":0},
{"c":104,"r":0,"v":1},{"c":104,"r":0.4,"v":0.89},{"c":104,"r":0.5,"v":0.83},{"c":104,"r":0.6,"v":0.7},{"c":104,"r":0.65,"v":0.59},{"c":104,"r":0.7,"v":0.46},{"c":104,"r":0.742,"v":0.3},{"c":104,"r":0.748,"v":0},
{"c":105,"r":0,"v":1},{"c":105,"r":0.4,"v":0.92},{"c":105,"r":0.6,"v":0.831},{"c":105,"r":0.7,"v":0.716},{"c":105,"r":0.75,"v":0.62},{"c":105,"r":0.8,"v":0.384},{"c":105,"r":0.806,"v":0},
{"c":106,"r":0,"v":1},{"c":106,"r":0.4,"v":0.92},{"c":106,"r":0.6,"v":0.829},{"c":106,"r":0.7,"v":0.714},{"c":106,"r":0.75,"v":0.617},{"c":106,"r":0.8,"v":0.382},{"c":106,"r":0.806,"v":0},
{"c":107,"r":0,"v":1},{"c":107,"r":0.4,"v":0.92},{"c":107,"r":0.6,"v":0.83},{"c":107,"r":0.7,"v":0.714},{"c":107,"r":0.75,"v":0.618},{"c":107,"r":0.8,"v":0.382},{"c":107,"r":0.806,"v":0},
{"c":108,"r":0,"v":1},{"c":108,"r":0.4,"v":0.923},{"c":108,"r":0.6,"v":0.836},{"c":108,"r":0.7,"v":0.724},{"c":108,"r":0.75,"v":0.63},{"c":108,"r":0.803,"v":0.39},{"c":108,"r":0.809,"v":0},
{"c":109,"r":0,"v":1},{"c":109,"r":0.4,"v":0.92},{"c":109,"r":0.6,"v":0.83},{"c":109,"r":0.7,"v":0.715},{"c":109,"r":0.75,"v":0.619},{"c":109,"r":0.8,"v":0.383},{"c":109,"r":0.806,"v":0},
{"c":110,"r":0,"v":1},{"c":110,"r":0.4,"v":0.914},{"c":110,"r":0.6,"v":0.817},{"c":110,"r":0.7,"v":0.696},{"c":110,"r":0.75,"v":0.595},{"c":110,"r":0.794,"v":0.367},{"c":110,"r":0.8,"v":0},
{"c":111,"r":0,"v":1},{"c":111,"r":0.4,"v":0.924},{"c":111,"r":0.6,"v":0.837},{"c":111,"r":0.7,"v":0.726},{"c":111,"r":0.75,"v":0.632},{"c":111,"r":0.804,"v":0.391},{"c":111,"r":0.81,"v":0},
{"c":112,"r":0,"v":1},{"c":112,"r":0.4,"v":0.91},{"c":112,"r":0.6,"v":0.81},{"c":112,"r":0.7,"v":0.685},{"c":112,"r":0.75,"v":0.582},{"c":112,"r":0.79,"v":0.358},{"c":112,"r":0.796,"v":0},
{"c":113,"r":0,"v":1},{"c":113,"r":0.4,"v":0.923},{"c":113,"r":0.6,"v":0.836},{"c":113,"r":0.7,"v":0.723},{"c":113,"r":0.75,"v":0.629},{"c":113,"r":0.803,"v":0.39},{"c":113,"r":0.809,"v":0},{"c":113,"r":1,"v":0},
{"c":114,"r":0,"v":1},{"c":114,"r":0.4,"v":0.962},{"c":114,"r":0.6,"v":0.889},{"c":114,"r":0.7,"v":0.808},{"c":114,"r":0.8,"v":0.667},{"c":114,"r":0.887,"v":0.413},{"c":114,"r":0.893,"v":0},
{"c":115,"r":0,"v":1},{"c":115,"r":0.4,"v":0.954},{"c":115,"r":0.6,"v":0.868},{"c":115,"r":0.7,"v":0.777},{"c":115,"r":0.8,"v":0.626},{"c":115,"r":0.874,"v":0.387},{"c":115,"r":0.88,"v":0},
{"c":116,"r":0,"v":1},{"c":116,"r":0.4,"v":0.96},{"c":116,"r":0.6,"v":0.883},{"c":116,"r":0.7,"v":0.799},{"c":116,"r":0.8,"v":0.656},{"c":116,"r":0.883,"v":0.406},{"c":116,"r":0.889,"v":0},
{"c":117,"r":0,"v":1},{"c":117,"r":0.4,"v":0.959},{"c":117,"r":0.6,"v":0.882},{"c":117,"r":0.7,"v":0.797},{"c":117,"r":0.8,"v":0.653},{"c":117,"r":0.882,"v":0.405},{"c":117,"r":0.888,"v":0},
{"c":118,"r":0,"v":1},{"c":118,"r":0.4,"v":0.953},{"c":118,"r":0.6,"v":0.866},{"c":118,"r":0.7,"v":0.774},{"c":118,"r":0.8,"v":0.622},{"c":118,"r":0.872,"v":0.385},{"c":118,"r":0.878,"v":0},
{"c":119,"r":0,"v":1},{"c":119,"r":0.4,"v":0.958},{"c":119,"r":0.6,"v":0.879},{"c":119,"r":0.7,"v":0.793},{"c":119,"r":0.8,"v":0.648},{"c":119,"r":0.881,"v":0.401},{"c":119,"r":0.887,"v":0},
{"c":120,"r":0,"v":1},{"c":120,"r":0.4,"v":0.962},{"c":120,"r":0.6,"v":0.887},{"c":120,"r":0.7,"v":0.806},{"c":120,"r":0.8,"v":0.665},{"c":120,"r":0.886,"v":0.412},{"c":120,"r":0.892,"v":0},
{"c":121,"r":0,"v":1},{"c":121,"r":0.4,"v":0.956},{"c":121,"r":0.6,"v":0.872},{"c":121,"r":0.7,"v":0.783},{"c":121,"r":0.8,"v":0.634},{"c":121,"r":0.876,"v":0.392},{"c":121,"r":0.882,"v":0},
{"c":122,"r":0,"v":1},{"c":122,"r":0.4,"v":0.952},{"c":122,"r":0.6,"v":0.861},{"c":122,"r":0.7,"v":0.767},{"c":122,"r":0.8,"v":0.612},{"c":122,"r":0.87,"v":0.379},{"c":122,"r":0.876,"v":0},
{"c":123,"r":0,"v":1},{"c":123,"r":0.4,"v":0.935},{"c":123,"r":0.6,"v":0.79},{"c":123,"r":0.7,"v":0.68},{"c":123,"r":0.8,"v":0.51},{"c":123,"r":0.848,"v":0.37},{"c":123,"r":0.854,"v":0},
{"c":124,"r":0,"v":1},{"c":124,"r":0.4,"v":0.959},{"c":124,"r":0.6,"v":0.88},{"c":124,"r":0.7,"v":0.795},{"c":124,"r":0.8,"v":0.65},{"c":124,"r":0.881,"v":0.402},{"c":124,"r":0.887,"v":0},
{"c":125,"r":0,"v":1},{"c":125,"r":0.4,"v":0.957},{"c":125,"r":0.6,"v":0.875},{"c":125,"r":0.7,"v":0.787},{"c":125,"r":0.8,"v":0.64},{"c":125,"r":0.878,"v":0.396},{"c":125,"r":0.884,"v":0},
{"c":126,"r":0,"v":1},{"c":126,"r":0.4,"v":0.956},{"c":126,"r":0.6,"v":0.872},{"c":126,"r":0.7,"v":0.783},{"c":126,"r":0.8,"v":0.634},{"c":126,"r":0.876,"v":0.393},{"c":126,"r":0.882,"v":0},
{"c":127,"r":0,"v":1},{"c":127,"r":0.4,"v":0.96},{"c":127,"r":0.6,"v":0.884},{"c":127,"r":0.7,"v":0.801},{"c":127,"r":0.8,"v":0.657},{"c":127,"r":0.884,"v":0.407},{"c":127,"r":0.89,"v":0},
{"c":128,"r":0,"v":1},{"c":128,"r":0.4,"v":0.964},{"c":128,"r":0.6,"v":0.894},{"c":128,"r":0.7,"v":0.816},{"c":128,"r":0.8,"v":0.678},{"c":128,"r":0.89,"v":0.42},{"c":128,"r":0.896,"v":0},
{"c":129,"r":0,"v":1},{"c":129,"r":0.4,"v":0.959},{"c":129,"r":0.6,"v":0.882},{"c":129,"r":0.7,"v":0.798},{"c":129,"r":0.8,"v":0.654},{"c":129,"r":0.882,"v":0.405},{"c":129,"r":0.888,"v":0},
{"c":130,"r":0,"v":1},{"c":130,"r":0.4,"v":0.961},{"c":130,"r":0.6,"v":0.885},{"c":130,"r":0.7,"v":0.803},{"c":130,"r":0.8,"v":0.66},{"c":130,"r":0.884,"v":0.409},{"c":130,"r":0.89,"v":0},
{"c":131,"r":0,"v":1},{"c":131,"r":0.4,"v":0.945},{"c":131,"r":0.6,"v":0.83},{"c":131,"r":0.7,"v":0.72},{"c":131,"r":0.8,"v":0.56},{"c":131,"r":0.858,"v":0.36},{"c":131,"r":0.864,"v":0},
{"c":132,"r":0,"v":1},{"c":132,"r":0.4,"v":0.962},{"c":132,"r":0.6,"v":0.888},{"c":132,"r":0.7,"v":0.807},{"c":132,"r":0.8,"v":0.666},{"c":132,"r":0.886,"v":0.413},{"c":132,"r":0.892,"v":0},{"c":132,"r":1,"v":0},
{"c":133,"r":0,"v":1},{"c":133,"r":0.5,"v":0.968},{"c":133,"r":0.7,"v":0.9},{"c":133,"r":0.8,"v":0.82},{"c":133,"r":0.85,"v":0.75},{"c":133,"r":0.905,"v":0.58},{"c":133,"r":0.911,"v":0},
{"c":134,"r":0,"v":1},{"c":134,"r":0.5,"v":0.959},{"c":134,"r":0.7,"v":0.877},{"c":134,"r":0.8,"v":0.785},{"c":134,"r":0.85,"v":0.692},{"c":134,"r":0.89,"v":0.545},{"c":134,"r":0.896,"v":0},
{"c":135,"r":0,"v":1},{"c":135,"r":0.5,"v":0.968},{"c":135,"r":0.7,"v":0.902},{"c":135,"r":0.8,"v":0.823},{"c":135,"r":0.85,"v":0.755},{"c":135,"r":0.906,"v":0.583},{"c":135,"r":0.912,"v":0},
{"c":136,"r":0,"v":1},{"c":136,"r":0.5,"v":0.967},{"c":136,"r":0.7,"v":0.897},{"c":136,"r":0.8,"v":0.816},{"c":136,"r":0.85,"v":0.744},{"c":136,"r":0.903,"v":0.576},{"c":136,"r":0.909,"v":0},
{"c":137,"r":0,"v":1},{"c":137,"r":0.5,"v":0.957},{"c":137,"r":0.7,"v":0.871},{"c":137,"r":0.8,"v":0.777},{"c":137,"r":0.85,"v":0.678},{"c":137,"r":0.886,"v":0.537},{"c":137,"r":0.892,"v":0},
{"c":138,"r":0,"v":1},{"c":138,"r":0.5,"v":0.964},{"c":138,"r":0.7,"v":0.891},{"c":138,"r":0.8,"v":0.807},{"c":138,"r":0.85,"v":0.729},{"c":138,"r":0.899,"v":0.567},{"c":138,"r":0.905,"v":0},
{"c":139,"r":0,"v":1},{"c":139,"r":0.5,"v":0.965},{"c":139,"r":0.7,"v":0.894},{"c":139,"r":0.8,"v":0.81},{"c":139,"r":0.85,"v":0.734},{"c":139,"r":0.901,"v":0.57},{"c":139,"r":0.907,"v":0},
{"c":140,"r":0,"v":1},{"c":140,"r":0.5,"v":0.958},{"c":140,"r":0.7,"v":0.874},{"c":140,"r":0.8,"v":0.781},{"c":140,"r":0.85,"v":0.684},{"c":140,"r":0.888,"v":0.541},{"c":140,"r":0.894,"v":0},
{"c":141,"r":0,"v":1},{"c":141,"r":0.5,"v":0.957},{"c":141,"r":0.7,"v":0.873},{"c":141,"r":0.8,"v":0.779},{"c":141,"r":0.85,"v":0.682},{"c":141,"r":0.887,"v":0.539},{"c":141,"r":0.893,"v":0},
{"c":142,"r":0,"v":1},{"c":142,"r":0.5,"v":0.952},{"c":142,"r":0.7,"v":0.862},{"c":142,"r":0.8,"v":0.755},{"c":142,"r":0.85,"v":0.62},{"c":142,"r":0.868,"v":0.505},{"c":142,"r":0.874,"v":0},
{"c":143,"r":0,"v":1},{"c":143,"r":0.5,"v":0.964},{"c":143,"r":0.7,"v":0.891},{"c":143,"r":0.8,"v":0.806},{"c":143,"r":0.85,"v":0.727},{"c":143,"r":0.899,"v":0.566},{"c":143,"r":0.905,"v":0},
{"c":144,"r":0,"v":1},{"c":144,"r":0.5,"v":0.964},{"c":144,"r":0.7,"v":0.891},{"c":144,"r":0.8,"v":0.807},{"c":144,"r":0.85,"v":0.728},{"c":144,"r":0.899,"v":0.567},{"c":144,"r":0.905,"v":0},
{"c":145,"r":0,"v":1},{"c":145,"r":0.5,"v":0.963},{"c":145,"r":0.7,"v":0.888},{"c":145,"r":0.8,"v":0.802},{"c":145,"r":0.85,"v":0.721},{"c":145,"r":0.897,"v":0.562},{"c":145,"r":0.903,"v":0},
{"c":146,"r":0,"v":1},{"c":146,"r":0.5,"v":0.961},{"c":146,"r":0.7,"v":0.882},{"c":146,"r":0.8,"v":0.793},{"c":146,"r":0.85,"v":0.705},{"c":146,"r":0.893,"v":0.553},{"c":146,"r":0.899,"v":0},
{"c":147,"r":0,"v":1},{"c":147,"r":0.5,"v":0.964},{"c":147,"r":0.7,"v":0.889},{"c":147,"r":0.8,"v":0.804},{"c":147,"r":0.85,"v":0.724},{"c":147,"r":0.898,"v":0.564},{"c":147,"r":0.904,"v":0},
{"c":148,"r":0,"v":1},{"c":148,"r":0.5,"v":0.956},{"c":148,"r":0.7,"v":0.871},{"c":148,"r":0.8,"v":0.776},{"c":148,"r":0.85,"v":0.676},{"c":148,"r":0.886,"v":0.536},{"c":148,"r":0.892,"v":0},
{"c":149,"r":0,"v":1},{"c":149,"r":0.5,"v":0.963},{"c":149,"r":0.7,"v":0.888},{"c":149,"r":0.8,"v":0.802},{"c":149,"r":0.85,"v":0.72},{"c":149,"r":0.897,"v":0.562},{"c":149,"r":0.903,"v":0},
{"c":150,"r":0,"v":1},{"c":150,"r":0.5,"v":0.957},{"c":150,"r":0.7,"v":0.873},{"c":150,"r":0.8,"v":0.779},{"c":150,"r":0.85,"v":0.682},{"c":150,"r":0.887,"v":0.539},{"c":150,"r":0.893,"v":0},
{"c":151,"r":0,"v":1},{"c":151,"r":0.5,"v":0.963},{"c":151,"r":0.7,"v":0.888},{"c":151,"r":0.8,"v":0.802},{"c":151,"r":0.85,"v":0.719},{"c":151,"r":0.897,"v":0.561},{"c":151,"r":0.903,"v":0},{"c":151,"r":1,"v":0},
{"c":152,"r":0,"v":1},{"c":152,"r":0.6,"v":0.963},{"c":152,"r":0.8,"v":0.898},{"c":152,"r":0.87,"v":0.841},{"c":152,"r":0.91,"v":0.758},{"c":152,"r":0.946,"v":0.655},{"c":152,"r":0.952,"v":0},
{"c":153,"r":0,"v":1},{"c":153,"r":0.6,"v":0.96},{"c":153,"r":0.8,"v":0.889},{"c":153,"r":0.87,"v":0.821},{"c":153,"r":0.91,"v":0.722},{"c":153,"r":0.938,"v":0.622},{"c":153,"r":0.944,"v":0},
{"c":154,"r":0,"v":1},{"c":154,"r":0.6,"v":0.962},{"c":154,"r":0.8,"v":0.894},{"c":154,"r":0.87,"v":0.831},{"c":154,"r":0.91,"v":0.741},{"c":154,"r":0.942,"v":0.639},{"c":154,"r":0.948,"v":0},
{"c":155,"r":0,"v":1},{"c":155,"r":0.6,"v":0.963},{"c":155,"r":0.8,"v":0.897},{"c":155,"r":0.87,"v":0.837},{"c":155,"r":0.91,"v":0.752},{"c":155,"r":0.944,"v":0.649},{"c":155,"r":0.95,"v":0},
{"c":156,"r":0,"v":1},{"c":156,"r":0.6,"v":0.962},{"c":156,"r":0.8,"v":0.893},{"c":156,"r":0.87,"v":0.83},{"c":156,"r":0.91,"v":0.738},{"c":156,"r":0.941,"v":0.636},{"c":156,"r":0.947,"v":0},
{"c":157,"r":0,"v":1},{"c":157,"r":0.6,"v":0.963},{"c":157,"r":0.8,"v":0.896},{"c":157,"r":0.87,"v":0.836},{"c":157,"r":0.91,"v":0.749},{"c":157,"r":0.944,"v":0.646},{"c":157,"r":0.95,"v":0},
{"c":158,"r":0,"v":1},{"c":158,"r":0.6,"v":0.963},{"c":158,"r":0.8,"v":0.897},{"c":158,"r":0.87,"v":0.838},{"c":158,"r":0.91,"v":0.753},{"c":158,"r":0.945,"v":0.65},{"c":158,"r":0.951,"v":0},
{"c":159,"r":0,"v":1},{"c":159,"r":0.6,"v":0.961},{"c":159,"r":0.8,"v":0.89},{"c":159,"r":0.87,"v":0.824},{"c":159,"r":0.91,"v":0.727},{"c":159,"r":0.939,"v":0.627},{"c":159,"r":0.945,"v":0},
{"c":160,"r":0,"v":1},{"c":160,"r":0.6,"v":0.958},{"c":160,"r":0.8,"v":0.882},{"c":160,"r":0.87,"v":0.808},{"c":160,"r":0.91,"v":0.698},{"c":160,"r":0.932,"v":0.6},{"c":160,"r":0.938,"v":0},
{"c":161,"r":0,"v":1},{"c":161,"r":0.6,"v":0.96},{"c":161,"r":0.8,"v":0.887},{"c":161,"r":0.87,"v":0.819},{"c":161,"r":0.91,"v":0.718},{"c":161,"r":0.937,"v":0.618},{"c":161,"r":0.943,"v":0},
{"c":162,"r":0,"v":1},{"c":162,"r":0.6,"v":0.963},{"c":162,"r":0.8,"v":0.896},{"c":162,"r":0.87,"v":0.837},{"c":162,"r":0.91,"v":0.75},{"c":162,"r":0.944,"v":0.648},{"c":162,"r":0.95,"v":0},
{"c":163,"r":0,"v":1},{"c":163,"r":0.6,"v":0.961},{"c":163,"r":0.8,"v":0.891},{"c":163,"r":0.87,"v":0.827},{"c":163,"r":0.91,"v":0.733},{"c":163,"r":0.94,"v":0.632},{"c":163,"r":0.946,"v":0},
{"c":164,"r":0,"v":1},{"c":164,"r":0.6,"v":0.963},{"c":164,"r":0.8,"v":0.896},{"c":164,"r":0.87,"v":0.836},{"c":164,"r":0.91,"v":0.749},{"c":164,"r":0.944,"v":0.646},{"c":164,"r":0.95,"v":0},
{"c":165,"r":0,"v":1},{"c":165,"r":0.6,"v":0.963},{"c":165,"r":0.8,"v":0.896},{"c":165,"r":0.87,"v":0.835},{"c":165,"r":0.91,"v":0.748},{"c":165,"r":0.943,"v":0.645},{"c":165,"r":0.949,"v":0},
{"c":166,"r":0,"v":1},{"c":166,"r":0.6,"v":0.961},{"c":166,"r":0.8,"v":0.89},{"c":166,"r":0.87,"v":0.823},{"c":166,"r":0.91,"v":0.726},{"c":166,"r":0.938,"v":0.626},{"c":166,"r":0.944,"v":0},
{"c":167,"r":0,"v":1},{"c":167,"r":0.6,"v":0.96},{"c":167,"r":0.8,"v":0.888},{"c":167,"r":0.87,"v":0.821},{"c":167,"r":0.91,"v":0.721},{"c":167,"r":0.937,"v":0.621},{"c":167,"r":0.943,"v":0},
{"c":168,"r":0,"v":1},{"c":168,"r":0.6,"v":0.961},{"c":168,"r":0.8,"v":0.892},{"c":168,"r":0.87,"v":0.828},{"c":168,"r":0.91,"v":0.735},{"c":168,"r":0.94,"v":0.634},{"c":168,"r":0.946,"v":0},
{"c":169,"r":0,"v":1},{"c":169,"r":0.6,"v":0.958},{"c":169,"r":0.8,"v":0.882},{"c":169,"r":0.87,"v":0.809},{"c":169,"r":0.91,"v":0.7},{"c":169,"r":0.932,"v":0.602},{"c":169,"r":0.938,"v":0},
{"c":170,"r":0,"v":1},{"c":170,"r":0.6,"v":0.963},{"c":170,"r":0.8,"v":0.897},{"c":170,"r":0.87,"v":0.838},{"c":170,"r":0.91,"v":0.753},{"c":170,"r":0.945,"v":0.65},{"c":170,"r":0.951,"v":0},{"c":170,"r":1,"v":0},
{"c":171,"r":0,"v":1},{"c":171,"r":0.4,"v":0.927},{"c":171,"r":0.6,"v":0.843},{"c":171,"r":0.7,"v":0.735},{"c":171,"r":0.75,"v":0.644},{"c":171,"r":0.807,"v":0.399},{"c":171,"r":0.813,"v":0},
{"c":172,"r":0,"v":1},{"c":172,"r":0.4,"v":0.916},{"c":172,"r":0.6,"v":0.823},{"c":172,"r":0.7,"v":0.704},{"c":172,"r":0.75,"v":0.605},{"c":172,"r":0.796,"v":0.373},{"c":172,"r":0.802,"v":0},
{"c":173,"r":0,"v":1},{"c":173,"r":0.4,"v":0.919},{"c":173,"r":0.6,"v":0.827},{"c":173,"r":0.7,"v":0.711},{"c":173,"r":0.75,"v":0.614},{"c":173,"r":0.799,"v":0.379},{"c":173,"r":0.805,"v":0},
{"c":174,"r":0,"v":1},{"c":174,"r":0.4,"v":0.921},{"c":174,"r":0.6,"v":0.831},{"c":174,"r":0.7,"v":0.717},{"c":174,"r":0.75,"v":0.621},{"c":174,"r":0.801,"v":0.384},{"c":174,"r":0.807,"v":0},
{"c":175,"r":0,"v":1},{"c":175,"r":0.4,"v":0.911},{"c":175,"r":0.6,"v":0.812},{"c":175,"r":0.7,"v":0.688},{"c":175,"r":0.75,"v":0.585},{"c":175,"r":0.791,"v":0.36},{"c":175,"r":0.797,"v":0},
{"c":176,"r":0,"v":1},{"c":176,"r":0.4,"v":0.92},{"c":176,"r":0.6,"v":0.831},{"c":176,"r":0.7,"v":0.716},{"c":176,"r":0.75,"v":0.62},{"c":176,"r":0.8,"v":0.383},{"c":176,"r":0.806,"v":0},
{"c":177,"r":0,"v":1},{"c":177,"r":0.4,"v":0.923},{"c":177,"r":0.6,"v":0.835},{"c":177,"r":0.7,"v":0.723},{"c":177,"r":0.75,"v":0.628},{"c":177,"r":0.803,"v":0.389},{"c":177,"r":0.809,"v":0},
{"c":178,"r":0,"v":1},{"c":178,"r":0.4,"v":0.913},{"c":178,"r":0.6,"v":0.815},{"c":178,"r":0.7,"v":0.693},{"c":178,"r":0.75,"v":0.591},{"c":178,"r":0.793,"v":0.364},{"c":178,"r":0.799,"v":0},
{"c":179,"r":0,"v":1},{"c":179,"r":0.4,"v":0.917},{"c":179,"r":0.6,"v":0.824},{"c":179,"r":0.7,"v":0.707},{"c":179,"r":0.75,"v":0.608},{"c":179,"r":0.797,"v":0.376},{"c":179,"r":0.803,"v":0},
{"c":180,"r":0,"v":1},{"c":180,"r":0.4,"v":0.89},{"c":180,"r":0.5,"v":0.835},{"c":180,"r":0.6,"v":0.71},{"c":180,"r":0.65,"v":0.6},{"c":180,"r":0.7,"v":0.47},{"c":180,"r":0.744,"v":0.31},{"c":180,"r":0.75,"v":0},
{"c":181,"r":0,"v":1},{"c":181,"r":0.4,"v":0.921},{"c":181,"r":0.6,"v":0.833},{"c":181,"r":0.7,"v":0.719},{"c":181,"r":0.75,"v":0.624},{"c":181,"r":0.801,"v":0.386},{"c":181,"r":0.807,"v":0},
{"c":182,"r":0,"v":1},{"c":182,"r":0.4,"v":0.918},{"c":182,"r":0.6,"v":0.826},{"c":182,"r":0.7,"v":0.709},{"c":182,"r":0.75,"v":0.611},{"c":182,"r":0.798,"v":0.378},{"c":182,"r":0.804,"v":0},
{"c":183,"r":0,"v":1},{"c":183,"r":0.4,"v":0.92},{"c":183,"r":0.6,"v":0.829},{"c":183,"r":0.7,"v":0.714},{"c":183,"r":0.75,"v":0.618},{"c":183,"r":0.8,"v":0.382},{"c":183,"r":0.806,"v":0},
{"c":184,"r":0,"v":1},{"c":184,"r":0.4,"v":0.922},{"c":184,"r":0.6,"v":0.835},{"c":184,"r":0.7,"v":0.722},{"c":184,"r":0.75,"v":0.628},{"c":184,"r":0.802,"v":0.388},{"c":184,"r":0.808,"v":0},
{"c":185,"r":0,"v":1},{"c":185,"r":0.4,"v":0.923},{"c":185,"r":0.6,"v":0.836},{"c":185,"r":0.7,"v":0.724},{"c":185,"r":0.75,"v":0.63},{"c":185,"r":0.803,"v":0.39},{"c":185,"r":0.809,"v":0},
{"c":186,"r":0,"v":1},{"c":186,"r":0.4,"v":0.911},{"c":186,"r":0.6,"v":0.812},{"c":186,"r":0.7,"v":0.687},{"c":186,"r":0.75,"v":0.584},{"c":186,"r":0.791,"v":0.36},{"c":186,"r":0.797,"v":0},
{"c":187,"r":0,"v":1},{"c":187,"r":0.4,"v":0.923},{"c":187,"r":0.6,"v":0.836},{"c":187,"r":0.7,"v":0.725},{"c":187,"r":0.75,"v":0.631},{"c":187,"r":0.803,"v":0.391},{"c":187,"r":0.809,"v":0},
{"c":188,"r":0,"v":1},{"c":188,"r":0.4,"v":0.912},{"c":188,"r":0.6,"v":0.814},{"c":188,"r":0.7,"v":0.69},{"c":188,"r":0.75,"v":0.588},{"c":188,"r":0.792,"v":0.362},{"c":188,"r":0.798,"v":0},
{"c":189,"r":0,"v":1},{"c":189,"r":0.4,"v":0.915},{"c":189,"r":0.6,"v":0.821},{"c":189,"r":0.7,"v":0.701},{"c":189,"r":0.75,"v":0.602},{"c":189,"r":0.795,"v":0.371},{"c":189,"r":0.801,"v":0},{"c":189,"r":1,"v":0},
{"c":190,"r":0,"v":1},{"c":190,"r":0.4,"v":0.966},{"c":190,"r":0.6,"v":0.9},{"c":190,"r":0.7,"v":0.825},{"c":190,"r":0.8,"v":0.69},{"c":190,"r":0.894,"v":0.427},{"c":190,"r":0.9,"v":0},
{"c":191,"r":0,"v":1},{"c":191,"r":0.4,"v":0.954},{"c":191,"r":0.6,"v":0.867},{"c":191,"r":0.7,"v":0.775},{"c":191,"r":0.8,"v":0.623},{"c":191,"r":0.873,"v":0.386},{"c":191,"r":0.879,"v":0},
{"c":192,"r":0,"v":1},{"c":192,"r":0.4,"v":0.958},{"c":192,"r":0.6,"v":0.878},{"c":192,"r":0.7,"v":0.792},{"c":192,"r":0.8,"v":0.646},{"c":192,"r":0.88,"v":0.4},{"c":192,"r":0.886,"v":0},
{"c":193,"r":0,"v":1},{"c":193,"r":0.4,"v":0.964},{"c":193,"r":0.6,"v":0.894},{"c":193,"r":0.7,"v":0.815},{"c":193,"r":0.8,"v":0.677},{"c":193,"r":0.89,"v":0.419},{"c":193,"r":0.896,"v":0},
{"c":194,"r":0,"v":1},{"c":194,"r":0.4,"v":0.956},{"c":194,"r":0.6,"v":0.872},{"c":194,"r":0.7,"v":0.784},{"c":194,"r":0.8,"v":0.635},{"c":194,"r":0.877,"v":0.393},{"c":194,"r":0.883,"v":0},
{"c":195,"r":0,"v":1},{"c":195,"r":0.4,"v":0.958},{"c":195,"r":0.6,"v":0.878},{"c":195,"r":0.7,"v":0.793},{"c":195,"r":0.8,"v":0.647},{"c":195,"r":0.88,"v":0.401},{"c":195,"r":0.886,"v":0},
{"c":196,"r":0,"v":1},{"c":196,"r":0.4,"v":0.963},{"c":196,"r":0.6,"v":0.891},{"c":196,"r":0.7,"v":0.812},{"c":196,"r":0.8,"v":0.673},{"c":196,"r":0.888,"v":0.417},{"c":196,"r":0.894,"v":0},
{"c":197,"r":0,"v":1},{"c":197,"r":0.4,"v":0.955},{"c":197,"r":0.6,"v":0.871},{"c":197,"r":0.7,"v":0.781},{"c":197,"r":0.8,"v":0.632},{"c":197,"r":0.876,"v":0.391},{"c":197,"r":0.882,"v":0},
{"c":198,"r":0,"v":1},{"c":198,"r":0.4,"v":0.955},{"c":198,"r":0.6,"v":0.87},{"c":198,"r":0.7,"v":0.781},{"c":198,"r":0.8,"v":0.631},{"c":198,"r":0.875,"v":0.391},{"c":198,"r":0.881,"v":0},
{"c":199,"r":0,"v":1},{"c":199,"r":0.4,"v":0.95},{"c":199,"r":0.6,"v":0.85},{"c":199,"r":0.7,"v":0.755},{"c":199,"r":0.8,"v":0.59},{"c":199,"r":0.86,"v":0.37},{"c":199,"r":0.866,"v":0},
{"c":200,"r":0,"v":1},{"c":200,"r":0.4,"v":0.963},{"c":200,"r":0.6,"v":0.891},{"c":200,"r":0.7,"v":0.811},{"c":200,"r":0.8,"v":0.672},{"c":200,"r":0.888,"v":0.416},{"c":200,"r":0.894,"v":0},
{"c":201,"r":0,"v":1},{"c":201,"r":0.4,"v":0.958},{"c":201,"r":0.6,"v":0.877},{"c":201,"r":0.7,"v":0.791},{"c":201,"r":0.8,"v":0.645},{"c":201,"r":0.88,"v":0.399},{"c":201,"r":0.886,"v":0},
{"c":202,"r":0,"v":1},{"c":202,"r":0.4,"v":0.961},{"c":202,"r":0.6,"v":0.885},{"c":202,"r":0.7,"v":0.802},{"c":202,"r":0.8,"v":0.66},{"c":202,"r":0.884,"v":0.409},{"c":202,"r":0.89,"v":0},
{"c":203,"r":0,"v":1},{"c":203,"r":0.4,"v":0.96},{"c":203,"r":0.6,"v":0.882},{"c":203,"r":0.7,"v":0.799},{"c":203,"r":0.8,"v":0.655},{"c":203,"r":0.883,"v":0.406},{"c":203,"r":0.889,"v":0},
{"c":204,"r":0,"v":1},{"c":204,"r":0.4,"v":0.966},{"c":204,"r":0.6,"v":0.898},{"c":204,"r":0.7,"v":0.823},{"c":204,"r":0.8,"v":0.687},{"c":204,"r":0.893,"v":0.426},{"c":204,"r":0.899,"v":0},
{"c":205,"r":0,"v":1},{"c":205,"r":0.4,"v":0.959},{"c":205,"r":0.6,"v":0.88},{"c":205,"r":0.7,"v":0.794},{"c":205,"r":0.8,"v":0.649},{"c":205,"r":0.881,"v":0.402},{"c":205,"r":0.887,"v":0},
{"c":206,"r":0,"v":1},{"c":206,"r":0.4,"v":0.964},{"c":206,"r":0.6,"v":0.893},{"c":206,"r":0.7,"v":0.814},{"c":206,"r":0.8,"v":0.676},{"c":206,"r":0.889,"v":0.419},{"c":206,"r":0.895,"v":0},
{"c":207,"r":0,"v":1},{"c":207,"r":0.4,"v":0.948},{"c":207,"r":0.6,"v":0.84},{"c":207,"r":0.7,"v":0.74},{"c":207,"r":0.8,"v":0.57},{"c":207,"r":0.86,"v":0.366},{"c":207,"r":0.866,"v":0},
{"c":208,"r":0,"v":1},{"c":208,"r":0.4,"v":0.961},{"c":208,"r":0.6,"v":0.886},{"c":208,"r":0.7,"v":0.804},{"c":208,"r":0.8,"v":0.661},{"c":208,"r":0.885,"v":0.41},{"c":208,"r":0.891,"v":0},{"c":208,"r":1,"v":0},
{"c":209,"r":0,"v":1},{"c":209,"r":0.5,"v":0.967},{"c":209,"r":0.7,"v":0.9},{"c":209,"r":0.8,"v":0.819},{"c":209,"r":0.85,"v":0.749},{"c":209,"r":0.904,"v":0.579},{"c":209,"r":0.91,"v":0},
{"c":210,"r":0,"v":1},{"c":210,"r":0.5,"v":0.958},{"c":210,"r":0.7,"v":0.874},{"c":210,"r":0.8,"v":0.781},{"c":210,"r":0.85,"v":0.685},{"c":210,"r":0.888,"v":0.541},{"c":210,"r":0.894,"v":0},
{"c":211,"r":0,"v":1},{"c":211,"r":0.5,"v":0.965},{"c":211,"r":0.7,"v":0.893},{"c":211,"r":0.8,"v":0.809},{"c":211,"r":0.85,"v":0.732},{"c":211,"r":0.9,"v":0.569},{"c":211,"r":0.906,"v":0},
{"c":212,"r":0,"v":1},{"c":212,"r":0.5,"v":0.962},{"c":212,"r":0.7,"v":0.886},{"c":212,"r":0.8,"v":0.8},{"c":212,"r":0.85,"v":0.716},{"c":212,"r":0.896,"v":0.56},{"c":212,"r":0.902,"v":0},
{"c":213,"r":0,"v":1},{"c":213,"r":0.5,"v":0.96},{"c":213,"r":0.7,"v":0.88},{"c":213,"r":0.8,"v":0.79},{"c":213,"r":0.85,"v":0.699},{"c":213,"r":0.892,"v":0.55},{"c":213,"r":0.898,"v":0},
{"c":214,"r":0,"v":1},{"c":214,"r":0.5,"v":0.962},{"c":214,"r":0.7,"v":0.884},{"c":214,"r":0.8,"v":0.797},{"c":214,"r":0.85,"v":0.711},{"c":214,"r":0.895,"v":0.557},{"c":214,"r":0.901,"v":0},
{"c":215,"r":0,"v":1},{"c":215,"r":0.5,"v":0.966},{"c":215,"r":0.7,"v":0.896},{"c":215,"r":0.8,"v":0.813},{"c":215,"r":0.85,"v":0.739},{"c":215,"r":0.902,"v":0.573},{"c":215,"r":0.908,"v":0},
{"c":216,"r":0,"v":1},{"c":216,"r":0.5,"v":0.957},{"c":216,"r":0.7,"v":0.872},{"c":216,"r":0.8,"v":0.778},{"c":216,"r":0.85,"v":0.68},{"c":216,"r":0.887,"v":0.538},{"c":216,"r":0.893,"v":0},
{"c":217,"r":0,"v":1},{"c":217,"r":0.5,"v":0.959},{"c":217,"r":0.7,"v":0.878},{"c":217,"r":0.8,"v":0.787},{"c":217,"r":0.85,"v":0.695},{"c":217,"r":0.891,"v":0.547},{"c":217,"r":0.897,"v":0},
{"c":218,"r":0,"v":1},{"c":218,"r":0.5,"v":0.952},{"c":218,"r":0.7,"v":0.862},{"c":218,"r":0.8,"v":0.755},{"c":218,"r":0.85,"v":0.62},{"c":218,"r":0.868,"v":0.505},{"c":218,"r":0.874,"v":0},
{"c":219,"r":0,"v":1},{"c":219,"r":0.5,"v":0.959},{"c":219,"r":0.7,"v":0.878},{"c":219,"r":0.8,"v":0.786},{"c":219,"r":0.85,"v":0.694},{"c":219,"r":0.89,"v":0.546},{"c":219,"r":0.896,"v":0},
{"c":220,"r":0,"v":1},{"c":220,"r":0.5,"v":0.964},{"c":220,"r":0.7,"v":0.891},{"c":220,"r":0.8,"v":0.806},{"c":220,"r":0.85,"v":0.727},{"c":220,"r":0.899,"v":0.566},{"c":220,"r":0.905,"v":0},
{"c":221,"r":0,"v":1},{"c":221,"r":0.5,"v":0.96},{"c":221,"r":0.7,"v":0.881},{"c":221,"r":0.8,"v":0.792},{"c":221,"r":0.85,"v":0.703},{"c":221,"r":0.893,"v":0.552},{"c":221,"r":0.899,"v":0},
{"c":222,"r":0,"v":1},{"c":222,"r":0.5,"v":0.963},{"c":222,"r":0.7,"v":0.888},{"c":222,"r":0.8,"v":0.802},{"c":222,"r":0.85,"v":0.721},{"c":222,"r":0.897,"v":0.562},{"c":222,"r":0.903,"v":0},
{"c":223,"r":0,"v":1},{"c":223,"r":0.5,"v":0.963},{"c":223,"r":0.7,"v":0.887},{"c":223,"r":0.8,"v":0.8},{"c":223,"r":0.85,"v":0.717},{"c":223,"r":0.896,"v":0.56},{"c":223,"r":0.902,"v":0},
{"c":224,"r":0,"v":1},{"c":224,"r":0.5,"v":0.957},{"c":224,"r":0.7,"v":0.872},{"c":224,"r":0.8,"v":0.777},{"c":224,"r":0.85,"v":0.679},{"c":224,"r":0.887,"v":0.537},{"c":224,"r":0.893,"v":0},
{"c":225,"r":0,"v":1},{"c":225,"r":0.5,"v":0.963},{"c":225,"r":0.7,"v":0.888},{"c":225,"r":0.8,"v":0.802},{"c":225,"r":0.85,"v":0.72},{"c":225,"r":0.897,"v":0.562},{"c":225,"r":0.903,"v":0},
{"c":226,"r":0,"v":1},{"c":226,"r":0.5,"v":0.958},{"c":226,"r":0.7,"v":0.873},{"c":226,"r":0.8,"v":0.78},{"c":226,"r":0.85,"v":0.683},{"c":226,"r":0.888,"v":0.54},{"c":226,"r":0.894,"v":0},
{"c":227,"r":0,"v":1},{"c":227,"r":0.5,"v":0.961},{"c":227,"r":0.7,"v":0.884},{"c":227,"r":0.8,"v":0.795},{"c":227,"r":0.85,"v":0.709},{"c":227,"r":0.894,"v":0.555},{"c":227,"r":0.9,"v":0},{"c":227,"r":1,"v":0},
{"c":228,"r":0,"v":1},{"c":228,"r":0.6,"v":0.964},{"c":228,"r":0.8,"v":0.899},{"c":228,"r":0.87,"v":0.842},{"c":228,"r":0.91,"v":0.76},{"c":228,"r":0.946,"v":0.656},{"c":228,"r":0.952,"v":0},
{"c":229,"r":0,"v":1},{"c":229,"r":0.6,"v":0.961},{"c":229,"r":0.8,"v":0.89},{"c":229,"r":0.87,"v":0.824},{"c":229,"r":0.91,"v":0.728},{"c":229,"r":0.939,"v":0.627},{"c":229,"r":0.945,"v":0},
{"c":230,"r":0,"v":1},{"c":230,"r":0.6,"v":0.962},{"c":230,"r":0.8,"v":0.895},{"c":230,"r":0.87,"v":0.834},{"c":230,"r":0.91,"v":0.746},{"c":230,"r":0.943,"v":0.643},{"c":230,"r":0.949,"v":0},
{"c":231,"r":0,"v":1},{"c":231,"r":0.6,"v":0.963},{"c":231,"r":0.8,"v":0.896},{"c":231,"r":0.87,"v":0.837},{"c":231,"r":0.91,"v":0.751},{"c":231,"r":0.944,"v":0.648},{"c":231,"r":0.95,"v":0},
{"c":232,"r":0,"v":1},{"c":232,"r":0.6,"v":0.96},{"c":232,"r":0.8,"v":0.888},{"c":232,"r":0.87,"v":0.82},{"c":232,"r":0.91,"v":0.721},{"c":232,"r":0.937,"v":0.621},{"c":232,"r":0.943,"v":0},
{"c":233,"r":0,"v":1},{"c":233,"r":0.6,"v":0.962},{"c":233,"r":0.8,"v":0.893},{"c":233,"r":0.87,"v":0.829},{"c":233,"r":0.91,"v":0.737},{"c":233,"r":0.941,"v":0.636},{"c":233,"r":0.947,"v":0},
{"c":234,"r":0,"v":1},{"c":234,"r":0.6,"v":0.963},{"c":234,"r":0.8,"v":0.897},{"c":234,"r":0.87,"v":0.838},{"c":234,"r":0.91,"v":0.754},{"c":234,"r":0.945,"v":0.651},{"c":234,"r":0.951,"v":0},
{"c":235,"r":0,"v":1},{"c":235,"r":0.6,"v":0.961},{"c":235,"r":0.8,"v":0.89},{"c":235,"r":0.87,"v":0.823},{"c":235,"r":0.91,"v":0.726},{"c":235,"r":0.938,"v":0.625},{"c":235,"r":0.944,"v":0},
{"c":236,"r":0,"v":1},{"c":236,"r":0.6,"v":0.959},{"c":236,"r":0.8,"v":0.884},{"c":236,"r":0.87,"v":0.811},{"c":236,"r":0.91,"v":0.704},{"c":236,"r":0.933,"v":0.605},{"c":236,"r":0.939,"v":0},
{"c":237,"r":0,"v":1},{"c":237,"r":0.6,"v":0.959},{"c":237,"r":0.8,"v":0.884},{"c":237,"r":0.87,"v":0.812},{"c":237,"r":0.91,"v":0.706},{"c":237,"r":0.934,"v":0.607},{"c":237,"r":0.94,"v":0},
{"c":238,"r":0,"v":1},{"c":238,"r":0.6,"v":0.961},{"c":238,"r":0.8,"v":0.892},{"c":238,"r":0.87,"v":0.828},{"c":238,"r":0.91,"v":0.735},{"c":238,"r":0.94,"v":0.634},{"c":238,"r":0.946,"v":0},
{"c":239,"r":0,"v":1},{"c":239,"r":0.6,"v":0.961},{"c":239,"r":0.8,"v":0.892},{"c":239,"r":0.87,"v":0.827},{"c":239,"r":0.91,"v":0.734},{"c":239,"r":0.94,"v":0.632},{"c":239,"r":0.946,"v":0},
{"c":240,"r":0,"v":1},{"c":240,"r":0.6,"v":0.962},{"c":240,"r":0.8,"v":0.895},{"c":240,"r":0.87,"v":0.835},{"c":240,"r":0.91,"v":0.747},{"c":240,"r":0.943,"v":0.645},{"c":240,"r":0.949,"v":0},
{"c":241,"r":0,"v":1},{"c":241,"r":0.6,"v":0.961},{"c":241,"r":0.8,"v":0.892},{"c":241,"r":0.87,"v":0.827},{"c":241,"r":0.91,"v":0.733},{"c":241,"r":0.94,"v":0.632},{"c":241,"r":0.946,"v":0},
{"c":242,"r":0,"v":1},{"c":242,"r":0.6,"v":0.961},{"c":242,"r":0.8,"v":0.89},{"c":242,"r":0.87,"v":0.824},{"c":242,"r":0.91,"v":0.727},{"c":242,"r":0.939,"v":0.627},{"c":242,"r":0.945,"v":0},
{"c":243,"r":0,"v":1},{"c":243,"r":0.6,"v":0.959},{"c":243,"r":0.8,"v":0.884},{"c":243,"r":0.87,"v":0.812},{"c":243,"r":0.91,"v":0.706},{"c":243,"r":0.934,"v":0.607},{"c":243,"r":0.94,"v":0},
{"c":244,"r":0,"v":1},{"c":244,"r":0.6,"v":0.961},{"c":244,"r":0.8,"v":0.892},{"c":244,"r":0.87,"v":0.828},{"c":244,"r":0.91,"v":0.734},{"c":244,"r":0.94,"v":0.633},{"c":244,"r":0.946,"v":0},
{"c":245,"r":0,"v":1},{"c":245,"r":0.6,"v":0.958},{"c":245,"r":0.8,"v":0.882},{"c":245,"r":0.87,"v":0.809},{"c":245,"r":0.91,"v":0.699},{"c":245,"r":0.932,"v":0.601},{"c":245,"r":0.938,"v":0},
{"c":246,"r":0,"v":1},{"c":246,"r":0.6,"v":0.963},{"c":246,"r":0.8,"v":0.897},{"c":246,"r":0.87,"v":0.839},{"c":246,"r":0.91,"v":0.755},{"c":246,"r":0.945,"v":0.651},{"c":246,"r":0.951,"v":0},{"c":246,"r":1,"v":0},
{"c":247,"r":0,"v":1},{"c":247,"r":0.4,"v":0.927},{"c":247,"r":0.6,"v":0.845},{"c":247,"r":0.7,"v":0.737},{"c":247,"r":0.75,"v":0.646},{"c":247,"r":0.807,"v":0.401},{"c":247,"r":0.813,"v":0},
{"c":248,"r":0,"v":1},{"c":248,"r":0.4,"v":0.912},{"c":248,"r":0.6,"v":0.814},{"c":248,"r":0.7,"v":0.692},{"c":248,"r":0.75,"v":0.59},{"c":248,"r":0.792,"v":0.363},{"c":248,"r":0.798,"v":0},
{"c":249,"r":0,"v":1},{"c":249,"r":0.4,"v":0.922},{"c":249,"r":0.6,"v":0.835},{"c":249,"r":0.7,"v":0.722},{"c":249,"r":0.75,"v":0.627},{"c":249,"r":0.802,"v":0.388},{"c":249,"r":0.808,"v":0},
{"c":250,"r":0,"v":1},{"c":250,"r":0.4,"v":0.924},{"c":250,"r":0.6,"v":0.839},{"c":250,"r":0.7,"v":0.728},{"c":250,"r":0.75,"v":0.635},{"c":250,"r":0.804,"v":0.394},{"c":250,"r":0.81,"v":0},
{"c":251,"r":0,"v":1},{"c":251,"r":0.4,"v":0.911},{"c":251,"r":0.6,"v":0.813},{"c":251,"r":0.7,"v":0.689},{"c":251,"r":0.75,"v":0.587},{"c":251,"r":0.791,"v":0.361},{"c":251,"r":0.797,"v":0},
{"c":252,"r":0,"v":1},{"c":252,"r":0.4,"v":0.925},{"c":252,"r":0.6,"v":0.841},{"c":252,"r":0.7,"v":0.731},{"c":252,"r":0.75,"v":0.639},{"c":252,"r":0.805,"v":0.396},{"c":252,"r":0.811,"v":0},
{"c":253,"r":0,"v":1},{"c":253,"r":0.4,"v":0.918},{"c":253,"r":0.6,"v":0.826},{"c":253,"r":0.7,"v":0.709},{"c":253,"r":0.75,"v":0.611},{"c":253,"r":0.798,"v":0.377},{"c":253,"r":0.804,"v":0},
{"c":254,"r":0,"v":1},{"c":254,"r":0.4,"v":0.91},{"c":254,"r":0.6,"v":0.811},{"c":254,"r":0.7,"v":0.686},{"c":254,"r":0.75,"v":0.582},{"c":254,"r":0.79,"v":0.358},{"c":254,"r":0.796,"v":0},
{"c":255,"r":0,"v":1},{"c":255,"r":0.4,"v":0.912},{"c":255,"r":0.6,"v":0.813},{"c":255,"r":0.7,"v":0.69},{"c":255,"r":0.75,"v":0.587},{"c":255,"r":0.792,"v":0.362},{"c":255,"r":0.798,"v":0},
{"c":256,"r":0,"v":1},{"c":256,"r":0.4,"v":0.89},{"c":256,"r":0.5,"v":0.835},{"c":256,"r":0.6,"v":0.71},{"c":256,"r":0.65,"v":0.6},{"c":256,"r":0.7,"v":0.47},{"c":256,"r":0.744,"v":0.3},{"c":256,"r":0.75,"v":0},
{"c":257,"r":0,"v":1},{"c":257,"r":0.4,"v":0.92},{"c":257,"r":0.6,"v":0.83},{"c":257,"r":0.7,"v":0.714},{"c":257,"r":0.75,"v":0.618},{"c":257,"r":0.8,"v":0.382},{"c":257,"r":0.806,"v":0},
{"c":258,"r":0,"v":1},{"c":258,"r":0.4,"v":0.923},{"c":258,"r":0.6,"v":0.837},{"c":258,"r":0.7,"v":0.725},{"c":258,"r":0.75,"v":0.632},{"c":258,"r":0.803,"v":0.391},{"c":258,"r":0.809,"v":0},
{"c":259,"r":0,"v":1},{"c":259,"r":0.4,"v":0.92},{"c":259,"r":0.6,"v":0.83},{"c":259,"r":0.7,"v":0.715},{"c":259,"r":0.75,"v":0.619},{"c":259,"r":0.8,"v":0.383},{"c":259,"r":0.806,"v":0},
{"c":260,"r":0,"v":1},{"c":260,"r":0.4,"v":0.924},{"c":260,"r":0.6,"v":0.837},{"c":260,"r":0.7,"v":0.726},{"c":260,"r":0.75,"v":0.632},{"c":260,"r":0.804,"v":0.391},{"c":260,"r":0.81,"v":0},
{"c":261,"r":0,"v":1},{"c":261,"r":0.4,"v":0.916},{"c":261,"r":0.6,"v":0.822},{"c":261,"r":0.7,"v":0.703},{"c":261,"r":0.75,"v":0.604},{"c":261,"r":0.796,"v":0.373},{"c":261,"r":0.802,"v":0},
{"c":262,"r":0,"v":1},{"c":262,"r":0.4,"v":0.913},{"c":262,"r":0.6,"v":0.815},{"c":262,"r":0.7,"v":0.693},{"c":262,"r":0.75,"v":0.591},{"c":262,"r":0.793,"v":0.364},{"c":262,"r":0.799,"v":0},
{"c":263,"r":0,"v":1},{"c":263,"r":0.4,"v":0.922},{"c":263,"r":0.6,"v":0.833},{"c":263,"r":0.7,"v":0.72},{"c":263,"r":0.75,"v":0.624},{"c":263,"r":0.802,"v":0.386},{"c":263,"r":0.808,"v":0},
{"c":264,"r":0,"v":1},{"c":264,"r":0.4,"v":0.914},{"c":264,"r":0.6,"v":0.819},{"c":264,"r":0.7,"v":0.698},{"c":264,"r":0.75,"v":0.598},{"c":264,"r":0.794,"v":0.369},{"c":264,"r":0.8,"v":0},
{"c":265,"r":0,"v":1},{"c":265,"r":0.4,"v":0.922},{"c":265,"r":0.6,"v":0.834},{"c":265,"r":0.7,"v":0.721},{"c":265,"r":0.75,"v":0.627},{"c":265,"r":0.802,"v":0.388},{"c":265,"r":0.808,"v":0},{"c":265,"r":1,"v":0},
{"c":266,"r":0,"v":1},{"c":266,"r":0.4,"v":0.969},{"c":266,"r":0.6,"v":0.908},{"c":266,"r":0.7,"v":0.837},{"c":266,"r":0.8,"v":0.706},{"c":266,"r":0.899,"v":0.477},{"c":266,"r":0.905,"v":0},
{"c":267,"r":0,"v":1},{"c":267,"r":0.4,"v":0.957},{"c":267,"r":0.6,"v":0.875},{"c":267,"r":0.7,"v":0.787},{"c":267,"r":0.8,"v":0.639},{"c":267,"r":0.878,"v":0.436},{"c":267,"r":0.884,"v":0},
{"c":268,"r":0,"v":1},{"c":268,"r":0.4,"v":0.967},{"c":268,"r":0.6,"v":0.901},{"c":268,"r":0.7,"v":0.827},{"c":268,"r":0.8,"v":0.693},{"c":268,"r":0.895,"v":0.469},{"c":268,"r":0.901,"v":0},
{"c":269,"r":0,"v":1},{"c":269,"r":0.4,"v":0.961},{"c":269,"r":0.6,"v":0.885},{"c":269,"r":0.7,"v":0.802},{"c":269,"r":0.8,"v":0.66},{"c":269,"r":0.884,"v":0.449},{"c":269,"r":0.89,"v":0},
{"c":270,"r":0,"v":1},{"c":270,"r":0.4,"v":0.961},{"c":270,"r":0.6,"v":0.886},{"c":270,"r":0.7,"v":0.804},{"c":270,"r":0.8,"v":0.662},{"c":270,"r":0.885,"v":0.45},{"c":270,"r":0.891,"v":0},
{"c":271,"r":0,"v":1},{"c":271,"r":0.4,"v":0.962},{"c":271,"r":0.6,"v":0.887},{"c":271,"r":0.7,"v":0.805},{"c":271,"r":0.8,"v":0.664},{"c":271,"r":0.886,"v":0.451},{"c":271,"r":0.892,"v":0},
{"c":272,"r":0,"v":1},{"c":272,"r":0.4,"v":0.964},{"c":272,"r":0.6,"v":0.895},{"c":272,"r":0.7,"v":0.817},{"c":272,"r":0.8,"v":0.679},{"c":272,"r":0.89,"v":0.461},{"c":272,"r":0.896,"v":0},
{"c":273,"r":0,"v":1},{"c":273,"r":0.4,"v":0.958},{"c":273,"r":0.6,"v":0.879},{"c":273,"r":0.7,"v":0.793},{"c":273,"r":0.8,"v":0.647},{"c":273,"r":0.88,"v":0.441},{"c":273,"r":0.886,"v":0},
{"c":274,"r":0,"v":1},{"c":274,"r":0.4,"v":0.955},{"c":274,"r":0.6,"v":0.87},{"c":274,"r":0.7,"v":0.78},{"c":274,"r":0.8,"v":0.63},{"c":274,"r":0.875,"v":0.43},{"c":274,"r":0.881,"v":0},
{"c":275,"r":0,"v":1},{"c":275,"r":0.4,"v":0.952},{"c":275,"r":0.6,"v":0.86},{"c":275,"r":0.7,"v":0.765},{"c":275,"r":0.8,"v":0.61},{"c":275,"r":0.862,"v":0.445},{"c":275,"r":0.868,"v":0},
{"c":276,"r":0,"v":1},{"c":276,"r":0.4,"v":0.966},{"c":276,"r":0.6,"v":0.898},{"c":276,"r":0.7,"v":0.823},{"c":276,"r":0.8,"v":0.687},{"c":276,"r":0.893,"v":0.466},{"c":276,"r":0.899,"v":0},
{"c":277,"r":0,"v":1},{"c":277,"r":0.4,"v":0.96},{"c":277,"r":0.6,"v":0.884},{"c":277,"r":0.7,"v":0.802},{"c":277,"r":0.8,"v":0.659},{"c":277,"r":0.884,"v":0.448},{"c":277,"r":0.89,"v":0},
{"c":278,"r":0,"v":1},{"c":278,"r":0.4,"v":0.962},{"c":278,"r":0.6,"v":0.888},{"c":278,"r":0.7,"v":0.807},{"c":278,"r":0.8,"v":0.666},{"c":278,"r":0.886,"v":0.453},{"c":278,"r":0.892,"v":0},
{"c":279,"r":0,"v":1},{"c":279,"r":0.4,"v":0.965},{"c":279,"r":0.6,"v":0.896},{"c":279,"r":0.7,"v":0.818},{"c":279,"r":0.8,"v":0.681},{"c":279,"r":0.891,"v":0.462},{"c":279,"r":0.897,"v":0},
{"c":280,"r":0,"v":1},{"c":280,"r":0.4,"v":0.966},{"c":280,"r":0.6,"v":0.899},{"c":280,"r":0.7,"v":0.824},{"c":280,"r":0.8,"v":0.688},{"c":280,"r":0.893,"v":0.467},{"c":280,"r":0.899,"v":0},
{"c":281,"r":0,"v":1},{"c":281,"r":0.4,"v":0.96},{"c":281,"r":0.6,"v":0.885},{"c":281,"r":0.7,"v":0.802},{"c":281,"r":0.8,"v":0.659},{"c":281,"r":0.884,"v":0.448},{"c":281,"r":0.89,"v":0},
{"c":282,"r":0,"v":1},{"c":282,"r":0.4,"v":0.963},{"c":282,"r":0.6,"v":0.892},{"c":282,"r":0.7,"v":0.813},{"c":282,"r":0.8,"v":0.674},{"c":282,"r":0.889,"v":0.458},{"c":282,"r":0.895,"v":0},
{"c":283,"r":0,"v":1},{"c":283,"r":0.4,"v":0.951},{"c":283,"r":0.6,"v":0.855},{"c":283,"r":0.7,"v":0.755},{"c":283,"r":0.8,"v":0.6},{"c":283,"r":0.868,"v":0.42},{"c":283,"r":0.874,"v":0},
{"c":284,"r":0,"v":1},{"c":284,"r":0.4,"v":0.963},{"c":284,"r":0.6,"v":0.892},{"c":284,"r":0.7,"v":0.813},{"c":284,"r":0.8,"v":0.674},{"c":284,"r":0.889,"v":0.457},{"c":284,"r":0.895,"v":0},{"c":284,"r":1,"v":0},
{"c":285,"r":0,"v":1},{"c":285,"r":0.5,"v":0.966},{"c":285,"r":0.7,"v":0.896},{"c":285,"r":0.8,"v":0.814},{"c":285,"r":0.85,"v":0.74},{"c":285,"r":0.902,"v":0.574},{"c":285,"r":0.908,"v":0},
{"c":286,"r":0,"v":1},{"c":286,"r":0.5,"v":0.957},{"c":286,"r":0.7,"v":0.873},{"c":286,"r":0.8,"v":0.78},{"c":286,"r":0.85,"v":0.683},{"c":286,"r":0.888,"v":0.54},{"c":286,"r":0.894,"v":0},
{"c":287,"r":0,"v":1},{"c":287,"r":0.5,"v":0.965},{"c":287,"r":0.7,"v":0.893},{"c":287,"r":0.8,"v":0.81},{"c":287,"r":0.85,"v":0.733},{"c":287,"r":0.9,"v":0.57},{"c":287,"r":0.906,"v":0},
{"c":288,"r":0,"v":1},{"c":288,"r":0.5,"v":0.962},{"c":288,"r":0.7,"v":0.886},{"c":288,"r":0.8,"v":0.799},{"c":288,"r":0.85,"v":0.715},{"c":288,"r":0.896,"v":0.559},{"c":288,"r":0.902,"v":0},
{"c":289,"r":0,"v":1},{"c":289,"r":0.5,"v":0.96},{"c":289,"r":0.7,"v":0.879},{"c":289,"r":0.8,"v":0.788},{"c":289,"r":0.85,"v":0.697},{"c":289,"r":0.891,"v":0.548},{"c":289,"r":0.897,"v":0},
{"c":290,"r":0,"v":1},{"c":290,"r":0.5,"v":0.962},{"c":290,"r":0.7,"v":0.886},{"c":290,"r":0.8,"v":0.798},{"c":290,"r":0.85,"v":0.714},{"c":290,"r":0.896,"v":0.558},{"c":290,"r":0.902,"v":0},
{"c":291,"r":0,"v":1},{"c":291,"r":0.5,"v":0.966},{"c":291,"r":0.7,"v":0.896},{"c":291,"r":0.8,"v":0.814},{"c":291,"r":0.85,"v":0.74},{"c":291,"r":0.902,"v":0.574},{"c":291,"r":0.908,"v":0},
{"c":292,"r":0,"v":1},{"c":292,"r":0.5,"v":0.957},{"c":292,"r":0.7,"v":0.871},{"c":292,"r":0.8,"v":0.776},{"c":292,"r":0.85,"v":0.677},{"c":292,"r":0.886,"v":0.536},{"c":292,"r":0.892,"v":0},
{"c":293,"r":0,"v":1},{"c":293,"r":0.5,"v":0.958},{"c":293,"r":0.7,"v":0.875},{"c":293,"r":0.8,"v":0.782},{"c":293,"r":0.85,"v":0.687},{"c":293,"r":0.889,"v":0.542},{"c":293,"r":0.895,"v":0},
{"c":294,"r":0,"v":1},{"c":294,"r":0.5,"v":0.951},{"c":294,"r":0.7,"v":0.861},{"c":294,"r":0.8,"v":0.752},{"c":294,"r":0.85,"v":0.615},{"c":294,"r":0.867,"v":0.502},{"c":294,"r":0.873,"v":0},
{"c":295,"r":0,"v":1},{"c":295,"r":0.5,"v":0.962},{"c":295,"r":0.7,"v":0.886},{"c":295,"r":0.8,"v":0.798},{"c":295,"r":0.85,"v":0.714},{"c":295,"r":0.895,"v":0.558},{"c":295,"r":0.901,"v":0},
{"c":296,"r":0,"v":1},{"c":296,"r":0.5,"v":0.961},{"c":296,"r":0.7,"v":0.883},{"c":296,"r":0.8,"v":0.795},{"c":296,"r":0.85,"v":0.708},{"c":296,"r":0.894,"v":0.555},{"c":296,"r":0.9,"v":0},
{"c":297,"r":0,"v":1},{"c":297,"r":0.5,"v":0.961},{"c":297,"r":0.7,"v":0.882},{"c":297,"r":0.8,"v":0.794},{"c":297,"r":0.85,"v":0.706},{"c":297,"r":0.894,"v":0.554},{"c":297,"r":0.9,"v":0},
{"c":298,"r":0,"v":1},{"c":298,"r":0.5,"v":0.96},{"c":298,"r":0.7,"v":0.88},{"c":298,"r":0.8,"v":0.789},{"c":298,"r":0.85,"v":0.699},{"c":298,"r":0.892,"v":0.549},{"c":298,"r":0.898,"v":0},
{"c":299,"r":0,"v":1},{"c":299,"r":0.5,"v":0.963},{"c":299,"r":0.7,"v":0.887},{"c":299,"r":0.8,"v":0.8},{"c":299,"r":0.85,"v":0.717},{"c":299,"r":0.896,"v":0.56},{"c":299,"r":0.902,"v":0},
{"c":300,"r":0,"v":1},{"c":300,"r":0.5,"v":0.956},{"c":300,"r":0.7,"v":0.869},{"c":300,"r":0.8,"v":0.774},{"c":300,"r":0.85,"v":0.673},{"c":300,"r":0.885,"v":0.534},{"c":300,"r":0.891,"v":0},
{"c":301,"r":0,"v":1},{"c":301,"r":0.5,"v":0.964},{"c":301,"r":0.7,"v":0.891},{"c":301,"r":0.8,"v":0.807},{"c":301,"r":0.85,"v":0.728},{"c":301,"r":0.899,"v":0.567},{"c":301,"r":0.905,"v":0},
{"c":302,"r":0,"v":1},{"c":302,"r":0.5,"v":0.958},{"c":302,"r":0.7,"v":0.875},{"c":302,"r":0.8,"v":0.782},{"c":302,"r":0.85,"v":0.687},{"c":302,"r":0.889,"v":0.542},{"c":302,"r":0.895,"v":0},
{"c":303,"r":0,"v":1},{"c":303,"r":0.5,"v":0.963},{"c":303,"r":0.7,"v":0.888},{"c":303,"r":0.8,"v":0.802},{"c":303,"r":0.85,"v":0.72},{"c":303,"r":0.897,"v":0.562},{"c":303,"r":0.903,"v":0},{"c":303,"r":1,"v":0}
]
},
"data":{"name":"curves"},
"columns":4,
"spacing":{"row":63,"column":83},
"bounds":"flush",
"concat":[
{"title":"Faster R-CNN IoU Threshold = 0.5 (category: echinus)","width":229,"height":150,"transform":[{"filter":"datum.c>=0&&datum.c<19"},{"lookup":"c","from":{"data":{"name":"labels"},"key":"c","fields":["t"]}}],"mark":{"type":"line","clip":true},"encoding":{"x":{"field":"r","type":"quantitative","scale":{"domain":[0,1],"nice":false},"title":"recall"},"y":{"field":"v","type":"quantitative","scale":{"domain":[0,1],"nice":false},"title":"precision"},"color":{"field":"t","type":"nominal","sort":{"field":"c","op":"min"},"title":null}}},
{"title":"Faster R-CNN IoU Threshold = 0.5 (category: holothurian)","width":229,"height":150,"transform":[{"filter":"datum.c>=19&&datum.c<38"},{"lookup":"c","from":{"data":{"name":"labels"},"key":"c","fields":["t"]}}],"mark":{"type":"line","clip":true},"encoding":{"x":{"field":"r","type":"quantitative","scale":{"domain":[0,1],"nice":false},"title":"recall"},"y":{"field":"v","type":"quantitative","scale":{"domain":[0,1],"nice":false},"title":"precision"},"color":{"field":"t","type":"nominal","sort":{"field":"c","op":"min"},"title":null}}},
{"title":"Faster R-CNN IoU Threshold = 0.5 (category: scallop)","width":229,"height":150,"transform":[{"filter":"datum.c>=38&&datum.c<57"},{"lookup":"c","from":{"data":{"name":"labels"},"key":"c","fields":["t"]}}],"mark":{"type":"line","clip":true},"encoding":{"x":{"field":"r","type":"quantitative","scale":{"domain":[0,1],"nice":false},"title":"recall"},"y":{"field":"v","type":"quantitative","scale":{"domain":[0,1],"nice":false},"title":"precision"},"color":{"field":"t","type":"nominal","sort":{"field":"c","op":"min"},"title":null}}},
{"title":"Faster R-CNN IoU Threshold = 0.5 (category: starfish)","width":229,"height":150,"transform":[{"filter":"datum.c>=57&&datum.c<76"},{"lookup":"c","from":{"data":{"name":"labels"},"key":"c","fields":["t"]}}],"mark":{"type":"line","clip":true},"encoding":{"x":{"field":"r","type":"quantitative","scale":{"domain":[0,1],"nice":false},"title":"recall"},"y":{"field":"v","type":"quantitative","scale":{"domain":[0,1],"nice":false},"title":"precision"},"color":{"field":"t","type":"nominal","sort":{"field":"c","op":"min"},"title":null}}},
{"title":"Faster R-CNN r101 IoU Threshold = 0.5 (category: echinus)","width":229,"height":150,"transform":[{"filter":"datum.c>=76&&datum.c<95"},{"lookup":"c","from":{"data":{"name":"labels"},"key":"c","fields":["t"]}}],"mark":{"type":"line","clip":true},"encoding":{"x":{"field":"r","type":"quantitative","scale":{"domain":[0,1],"nice":false},"title":"recall"},"y":{"field":"v","type":"quantitative","scale":{"domain":[0,1],"nice":false},"title":"precision"},"color":{"field":"t","type":"nominal","sort":{"field":"c","op":"min"},"title":null}}},
{"title":"Faster R-CNN r101 IoU Threshold = 0.5 (category: holothurian)","width":229,"height":150,"transform":[{"filter":"datum.c>=95&&datum.c<114"},{"lookup":"c","from":{"data":{"name":"labels"},"key":"c","fields":["t"]}}],"mark":{"type":"line","clip":true},"encoding":{"x":{"field":"r","type":"quantitative","scale":{"domain":[0,1],"nice":false},"title":"recall"},"y":{"field":"v","type":"quantitative","scale":{"domain":[0,1],"nice":false},"title":"precision"},"color":{"field":"t","type":"nominal","sort":{"field":"c","op":"min"},"title":null}}},
{"title":"Faster R-CNN r101 IoU Threshold = 0.5 (category: scallop)","width":229,"height":150,"transform":[{"filter":"datum.c>=114&&datum.c<133"},{"lookup":"c","from":{"data":{"name":"labels"},"key":"c","fields":["t"]}}],"mark":{"type":"line","clip":true},"encoding":{"x":{"field":"r","type":"quantitative","scale":{"domain":[0,1],"nice":false},"title":"recall"},"y":{"field":"v","type":"quantitative","scale":{"domain":[0,1],"nice":false},"title":"precision"},"color":{"field":"t","type":"nominal","sort":{"field":"c","op":"min"},"title":null}}},
{"title":"Faster R-CNN r101 IoU Threshold = 0.5 (category: starfish)","width":229,"height":150,"transform":[{"filter":"datum.c>=133&&datum.c<152"},{"lookup":"c","from":{"data":{"name":"labels"},"key":"c","fields":["t"]}}],"mark":{"type":"line","clip":true},"encoding":{"x":{"field":"r","type":"quantitative","scale":{"domain":[0,1],"nice":false},"title":"recall"},"y":{"field":"v","type":"quantitative","scale":{"domain":[0,1],"nice":false},"title":"precision"},"color":{"field":"t","type":"nominal","sort":{"field":"c","op":"min"},"title":null}}},
{"title":"Faster R-CNN x101 32x4d IoU Threshold = 0.5 (category: echinus)","width":229,"height":150,"transform":[{"filter":"datum.c>=152&&datum.c<171"},{"lookup":"c","from":{"data":{"name":"labels"},"key":"c","fields":["t"]}}],"mark":{"type":"line","clip":true},"encoding":{"x":{"field":"r","type":"quantitative","scale":{"domain":[0,1],"nice":false},"title":"recall"},"y":{"field":"v","type":"quantitative","scale":{"domain":[0,1],"nice":false},"title":"precision"},"color":{"field":"t","type":"nominal","sort":{"field":"c","op":"min"},"title":null}}},
{"title":"Faster R-CNN x101 32x4d IoU Threshold = 0.5 (category: holothurian)","width":229,"height":150,"transform":[{"filter":"datum.c>=171&&datum.c<190"},{"lookup":"c","from":{"data":{"name":"labels"},"key":"c","fields":["t"]}}],"mark":{"type":"line","clip":true},"encoding":{"x":{"field":"r","type":"quantitative","scale":{"domain":[0,1],"nice":false},"title":"recall"},"y":{"field":"v","type":"quantitative","scale":{"domain":[0,1],"nice":false},"title":"precision"},"color":{"field":"t","type":"nominal","sort":{"field":"c","op":"min"},"title":null}}},
{"title":"Faster R-CNN x101 32x4d IoU Threshold = 0.5 (category: scallop)","width":229,"height":150,"transform":[{"filter":"datum.c>=190&&datum.c<209"},{"lookup":"c","from":{"data":{"name":"labels"},"key":"c","fields":["t"]}}],"mark":{"type":"line","clip":true},"encoding":{"x":{"field":"r","type":"quantitative","scale":{"domain":[0,1],"nice":false},"title":"recall"},"y":{"field":"v","type":"quantitative","scale":{"domain":[0,1],"nice":false},"title":"precision"},"color":{"field":"t","type":"nominal","sort":{"field":"c","op":"min"},"title":null}}},
{"title":"Faster R-CNN x101 32x4d IoU Threshold = 0.5 (category: starfish)","width":229,"height":150,"transform":[{"filter":"datum.c>=209&&datum.c<228"},{"lookup":"c","from":{"data":{"name":"labels"},"key":"c","fields":["t"]}}],"mark":{"type":"line","clip":true},"encoding":{"x":{"field":"r","type":"quantitative","scale":{"domain":[0,1],"nice":false},"title":"recall"},"y":{"field":"v","type":"quantitative","scale":{"domain":[0,1],"nice":false},"title":"precision"},"color":{"field":"t","type":"nominal","sort":{"field":"c","op":"min"},"title":null}}},
{"title":"Faster R-CNN x101 64x4d IoU Threshold = 0.5 (category: echinus)","width":229,"height":150,"transform":[{"filter":"datum.c>=228&&datum.c<247"},{"lookup":"c","from":{"data":{"name":"labels"},"key":"c","fields":["t"]}}],"mark":{"type":"line","clip":true},"encoding":{"x":{"field":"r","type":"quantitative","scale":{"domain":[0,1],"nice":false},"title":"recall"},"y":{"field":"v","type":"quantitative","scale":{"domain":[0,1],"nice":false},"title":"precision"},"color":{"field":"t","type":"nominal","sort":{"field":"c","op":"min"},"title":null}}},
{"title":"Faster R-CNN x101 64x4d IoU Threshold = 0.5 (category: holothurian)","width":229,"height":150,"transform":[{"filter":"datum.c>=247&&datum.c<266"},{"lookup":"c","from":{"data":{"name":"labels"},"key":"c","fields":["t"]}}],"mark":{"type":"line","clip":true},"encoding":{"x":{"field":"r","type":"quantitative","scale":{"domain":[0,1],"nice":false},"title":"recall"},"y":{"field":"v","type":"quantitative","scale":{"domain":[0,1],"nice":false},"title":"precision"},"color":{"field":"t","type":"nominal","sort":{"field":"c","op":"min"},"title":null}}},
{"title":"Faster R-CNN x101 64x4d IoU Threshold = 0.5 (category: scallop)","width":229,"height":150,"transform":[{"filter":"datum.c>=266&&datum.c<285"},{"lookup":"c","from":{"data":{"name":"labels"},"key":"c","fields":["t"]}}],"mark":{"type":"line","clip":true},"encoding":{"x":{"field":"r","type":"quantitative","scale":{"domain":[0,1],"nice":false},"title":"recall"},"y":{"field":"v","type":"quantitative","scale":{"domain":[0,1],"nice":false},"title":"precision"},"color":{"field":"t","type":"nominal","sort":{"field":"c","op":"min"},"title":null}}},
{"title":"Faster R-CNN x101 64x4d IoU Threshold = 0.5 (category: starfish)","width":229,"height":150,"transform":[{"filter":"datum.c>=285&&datum.c<304"},{"lookup":"c","from":{"data":{"name":"labels"},"key":"c","fields":["t"]}}],"mark":{"type":"line","clip":true},"encoding":{"x":{"field":"r","type":"quantitative","scale":{"domain":[0,1],"nice":false},"title":"recall"},"y":{"field":"v","type":"quantitative","scale":{"domain":[0,1],"nice":false},"title":"precision"},"color":{"field":"t","type":"nominal","sort":{"field":"c","op":"min"},"title":null}}}
],
"resolve":{"scale":{"color":"independent","x":"independent","y":"independent"},"legend":{"color":"independent"},"axis":{"x":"independent","y":"independent"}},
"config":{
"font":"DejaVu Sans",
"view":{"fill":"#EAEAF2","stroke":null},
"line":{"strokeWidth":1,"opacity":0.7},
"axis":{"domain":false,"ticks":false,"grid":true,"gridColor":"#ffffff","gridWidth":1,"labelFontSize":6.3,"labelColor":"#262626","titleFontSize":6.8,"titleFontWeight":"normal","titleColor":"#262626","tickCount":6,"labelFlush":false},
"axisX":{"labelPadding":3.5,"titlePadding":1.5},
"axisY":{"labelPadding":5.5,"titlePadding":2.5},
"title":{"fontSize":7.6,"fontWeight":"normal","color":"#262626","offset":-1,"frame":"group"},
"legend":{"orient":"top-left","offset":1,"padding":0.8,"fillColor":"rgba(234,234,242,0.8)","strokeColor":"#cccccc","cornerRadius":2,"labelFontSize":5,"labelColor":"#262626","labelLimit":300,"symbolType":"M-2.1,0H2.1","symbolSize":22,"symbolStrokeWidth":1.3,"symbolOffset":1.9,"labelOffset":9,"rowPadding":1.76},
"range":{"category":["#1f77b4","#ff7f0e","#2ca02c","#d62728","#9467bd","#8c564b","#e377c2","#7f7f7f","#bcbd22","#17becf","#1f77b4","#ff7f0e","#2ca02c","#d62728","#9467bd","#8c564b","#e377c2","#7f7f7f","#bcbd22"]}
}
}
